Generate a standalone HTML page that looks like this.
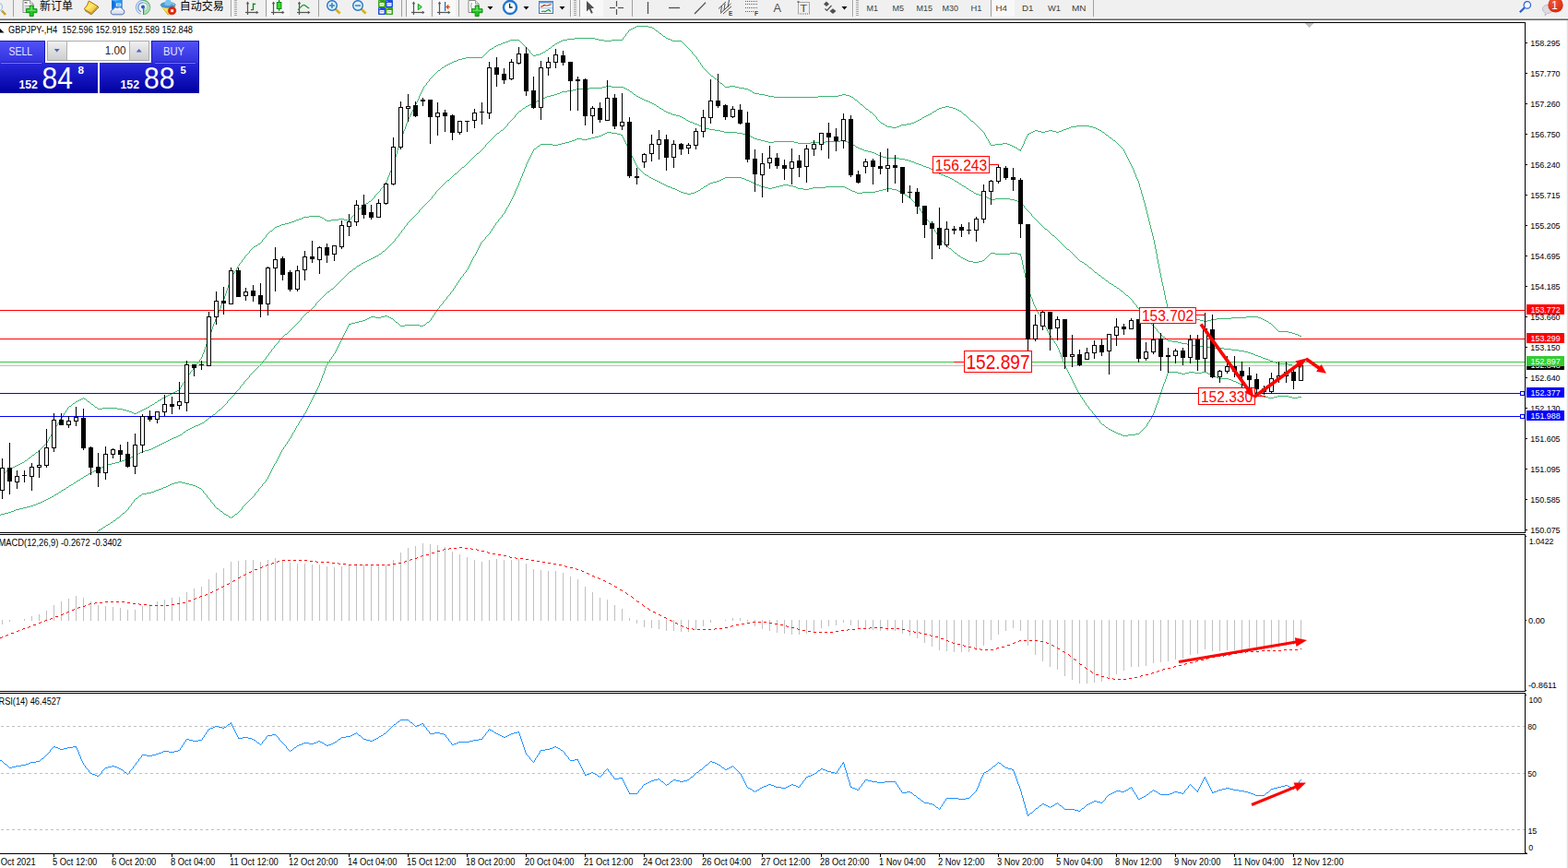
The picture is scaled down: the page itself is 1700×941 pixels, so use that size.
<!DOCTYPE html>
<html><head><meta charset="utf-8"><title>GBPJPY-,H4</title>
<style>html,body{margin:0;padding:0;background:#fff;overflow:hidden}body{width:1700px;height:941px;position:relative;font-family:"Liberation Sans",sans-serif}svg text{font-family:"Liberation Sans",sans-serif}</style></head>
<body>
<svg width="1700" height="941" viewBox="0 0 1700 941" style="position:absolute;left:0;top:0;font-family:'Liberation Sans',sans-serif">
<g id="chart">
<g shape-rendering="crispEdges"><path d="M319 239.5h2M354 239.5h5M377 239.5h2M111 442.5h16M158 442.5h2M538 49.5h2M599 49.5h2M995 130.5h2M10 508.5h2M39 490.5h2M1013 120.5h2M1040 120.5h2M833 104.5h6M887 104.5h22M921 104.5h2M1122 141.5h3M1137 141.5h4M1151 141.5h2M1192 141.5h2M553 43.5h10M610 43.5h5M649 43.5h6M663 43.5h12M727 43.5h2M1290 344.5h3M1335 344.5h16M1364 344.5h3M1288 343.5h2M1351 343.5h13M1281 339.5h2M955 133.5h2M988 133.5h3M84 434.5h2M171 434.5h2M829 103.5h4M909 103.5h4M917 103.5h4M957 134.5h2M983 134.5h5M545 46.5h3M604 46.5h2M991 132.5h2M1099 159.5h2M1266 336.5h5M1297 346.5h4M1313 346.5h6M1369 346.5h2M977 135.5h6M277 266.5h2M960 136.5h2M975 136.5h2M1167 136.5h14M497 64.5h4M309 242.5h4M962 137.5h5M972 137.5h3M1161 137.5h6M1181 137.5h4M1079 156.5h8M1092 156.5h3M1409 364.5h2M1025 115.5h4M140 446.5h3M150 446.5h2M993 131.5h2M1053 131.5h2M1376 350.5h2M690 28.5h13M823 102.5h6M913 102.5h4M324 237.5h3M367 237.5h6M316 240.5h3M589 56.5h2M505 62.5h18M168 436.5h2M22 502.5h2M186 426.5h2M321 238.5h3M352 238.5h2M359 238.5h8M373 238.5h4M1301 347.5h4M1309 347.5h4M1371 347.5h2M18 504.5h2M1120 142.5h2M1125 142.5h4M1133 142.5h4M1141 142.5h4M1148 142.5h3M533 52.5h2M595 52.5h2M791 93.5h6M329 235.5h6M347 235.5h2M327 236.5h2M349 236.5h2M137 445.5h3M152 445.5h2M1401 361.5h3M623 41.5h22M722 41.5h2M997 129.5h2M1021 116.5h4M1029 116.5h4M490 67.5h2M939 118.5h2M1016 118.5h2M1036 118.5h2M1293 345.5h4M1319 345.5h16M1367 345.5h2M1038 119.5h2M684 31.5h2M75 440.5h2M1118 143.5h2M1129 143.5h4M1145 143.5h3M1195 143.5h2M1087 155.5h5M839 105.5h48M923 105.5h2M335 234.5h12M1386 359.5h11M88 432.5h2M91 432.5h2M1277 338.5h4M275 267.5h2M482 71.5h2M615 42.5h8M645 42.5h4M724 42.5h3M551 44.5h2M608 44.5h2M655 44.5h8M729 44.5h10M1207 152.5h2M176 431.5h2M486 69.5h2M818 101.5h5M1271 337.5h6M540 48.5h3M479 73.5h2M813 98.5h2M106 443.5h5M127 443.5h6M156 443.5h2M548 45.5h3M606 45.5h2M531 53.5h2M1097 158.5h2M1199 146.5h2M585 58.5h2M163 439.5h2M1283 340.5h2M1305 348.5h4M1373 348.5h2M501 63.5h4M1156 139.5h3M1188 139.5h2M1404 362.5h3M587 57.5h2M1101 160.5h2M1203 149.5h2M143 447.5h2M148 447.5h2M543 47.5h2M602 47.5h2M1114 145.5h2M775 85.5h2M389 226.5h2M811 97.5h2M592 54.5h2M488 68.5h2M305 243.5h4M536 50.5h2M35 493.5h2M927 108.5h2M400 218.5h2M184 427.5h2M1285 341.5h2M475 76.5h2M1074 157.5h5M1095 157.5h2M313 241.5h3M1018 117.5h3M1033 117.5h3M816 100.5h2M807 96.5h4M682 32.5h2M1116 144.5h2M578 60.5h3M145 448.5h3M1104 162.5h3M786 94.5h5M797 94.5h4M1000 127.5h2M1002 126.5h2M99 438.5h2M165 438.5h2M967 138.5h5M1159 138.5h2M1185 138.5h3M943 121.5h2M1011 121.5h2M79 437.5h2M1004 125.5h2M82 435.5h2M95 435.5h2M397 220.5h2M20 503.5h2M16 505.5h2M1153 140.5h3M1190 140.5h2M581 59.5h4M0 515.5h2M103 441.5h2M160 441.5h2M293 250.5h2M771 82.5h2M1397 360.5h4M688 29.5h2M703 29.5h4M27 499.5h2M192 423.5h2M801 95.5h6M303 244.5h2M24 501.5h2M133 444.5h4M154 444.5h2M180 429.5h2M933 113.5h2M182 428.5h2M1006 124.5h2M1045 124.5h2M86 433.5h2M173 433.5h2M484 70.5h2M1407 363.5h2M7 510.5h2M711 33.5h2M190 424.5h2M686 30.5h2M707 30.5h2M719 39.5h2M395 221.5h2M14 506.5h2M781 90.5h2M178 430.5h2M715 36.5h2M280 264.5h2M300 245.5h3M1008 123.5h2M495 65.5h2M188 425.5h2M31 496.5h2M492 66.5h3M298 246.5h2M3 513.5h2M12 507.5h2M1245.5 236v4M73.5 442v2M105.5 442v1M568.5 49v1M743.5 49v1M442.5 129v3M952.5 130v1M1052.5 130v1M447.5 119v2M942.5 120v1M454.5 104v3M229.5 357v3M1385.5 358v1M438.5 140v2M1064.5 141v1M234.5 343v3M236.5 339v2M441.5 132v2M1056.5 133v1M453.5 107v2M926.5 107v1M94.5 434v1M455.5 102v2M440.5 134v3M1057.5 134v1M212.5 395v2M424.5 182v3M1229.5 184v3M565.5 46v1M740.5 46v1M231.5 351v3M1380.5 353v1M954.5 132v1M1055.5 132v1M432.5 157v3M1108.5 158v2M1215.5 159v1M46.5 484v1M428.5 170v3M1222.5 170v2M237.5 336v3M427.5 173v4M1224.5 174v2M244.5 318v3M1262.5 315v5M233.5 346v3M959.5 135v1M1058.5 135v1M253.5 296v1M1258.5 296v5M249.5 303v3M1259.5 301v5M1252.5 265v5M1059.5 136v1M756.5 64v1M1246.5 240v4M245.5 315v3M477.5 75v1M764.5 75v1M439.5 137v3M1060.5 137v1M433.5 153v4M1073.5 155v2M1109.5 156v2M1212.5 156v1M54.5 473v1M284.5 260v2M1251.5 260v5M227.5 362v3M449.5 115v2M936.5 115v1M71.5 445v2M216.5 390v2M452.5 109v2M929.5 109v1M953.5 131v1M50.5 480v1M211.5 397v1M232.5 349v2M351.5 237v1M380.5 236v2M528.5 56v1M574.5 55v2M750.5 56v2M755.5 62v2M426.5 177v3M1226.5 178v2M81.5 436v1M97.5 436v1M296.5 248v1M1248.5 248v4M257.5 289v2M1256.5 286v5M243.5 321v3M1263.5 320v5M379.5 238v1M437.5 142v3M1065.5 142v1M1194.5 142v1M571.5 52v1M746.5 52v1M460.5 93v1M785.5 93v1M381.5 235v1M1244.5 232v4M405.5 214v1M1239.5 213v4M393.5 223v1M1241.5 220v4M240.5 329v2M1265.5 329v5M273.5 269v1M228.5 360v2M675.5 41v2M392.5 224v1M1242.5 224v4M951.5 129v1M1051.5 129v1M467.5 84v1M774.5 84v1M937.5 116v1M758.5 67v1M1228.5 182v2M65.5 454v2M2.5 514v1M448.5 117v2M195.5 420v2M418.5 197v2M1234.5 196v3M941.5 119v1M1015.5 119v1M223.5 373v3M271.5 271v1M1253.5 270v5M709.5 31v1M102.5 440v1M162.5 440v1M1066.5 143v1M230.5 354v3M1382.5 355v1M1110.5 153v3M1211.5 155v1M474.5 77v1M766.5 77v1M282.5 263v1M246.5 312v3M1261.5 310v5M386.5 229v1M1243.5 228v4M422.5 187v3M1230.5 187v2M239.5 331v3M382.5 234v1M175.5 432v1M198.5 415v2M429.5 167v3M1221.5 168v2M235.5 341v2M1287.5 342v1M259.5 286v2M256.5 291v2M1257.5 291v5M64.5 456v2M461.5 92v1M784.5 92v1M194.5 422v1M761.5 71v2M270.5 272v2M60.5 462v2M457.5 98v2M815.5 99v1M563.5 44v1M434.5 150v3M1071.5 151v2M1111.5 151v2M1384.5 357v1M90.5 431v1M759.5 68v2M420.5 192v3M1233.5 194v2M262.5 282v2M1255.5 281v5M267.5 276v1M1254.5 275v6M226.5 365v3M456.5 100v2M567.5 48v1M601.5 48v1M742.5 48v1M762.5 73v1M254.5 294v2M220.5 382v2M564.5 45v1M739.5 45v1M572.5 53v1M594.5 53v1M747.5 53v1M408.5 210v1M1238.5 210v3M1214.5 158v1M436.5 145v3M1068.5 146v2M1114.5 146v1M526.5 58v1M576.5 58v1M751.5 58v1M55.5 471v2M77.5 439v1M101.5 439v1M419.5 195v2M423.5 185v2M51.5 478v2M414.5 203v1M1236.5 203v3M42.5 488v1M1062.5 139v1M204.5 406v1M406.5 212v2M288.5 255v2M1250.5 256v4M274.5 268v1M527.5 57v1M575.5 57v1M431.5 160v3M1107.5 160v2M1216.5 160v1M200.5 412v2M678.5 37v2M717.5 37v1M435.5 148v2M1069.5 148v2M1112.5 149v2M70.5 447v1M215.5 392v1M49.5 481v1M295.5 249v1M290.5 253v1M1249.5 252v4M566.5 47v1M741.5 47v1M1067.5 144v2M1198.5 145v1M203.5 407v2M529.5 55v1M591.5 55v1M749.5 55v1M430.5 163v4M1106.5 163v1M1218.5 162v2M69.5 448v2M466.5 85v1M29.5 498v1M263.5 281v1M1231.5 189v3M394.5 222v1M1103.5 161v1M1217.5 161v1M458.5 96v2M416.5 200v2M1235.5 199v4M1206.5 151v1M530.5 54v1M573.5 54v1M748.5 54v1M385.5 230v1M478.5 74v1M763.5 74v1M1072.5 153v2M1210.5 154v1M63.5 458v1M258.5 288v1M481.5 72v1M59.5 464v2M269.5 274v1M1209.5 153v1M569.5 50v1M598.5 50v1M744.5 50v1M471.5 80v1M769.5 80v1M285.5 259v1M387.5 228v1M1113.5 147v2M1201.5 147v1M1240.5 217v3M265.5 278v2M297.5 247v1M1247.5 244v4M1223.5 172v2M209.5 399v2M412.5 205v2M43.5 487v1M287.5 257v1M248.5 306v3M1260.5 306v4M407.5 211v1M765.5 76v1M1213.5 157v1M930.5 110v1M384.5 231v2M938.5 117v1M208.5 401v1M1375.5 349v1M404.5 215v1M710.5 32v1M1197.5 144v1M472.5 79v1M768.5 79v1M524.5 60v1M753.5 60v1M391.5 225v1M199.5 414v1M535.5 51v1M570.5 51v1M597.5 51v1M745.5 51v1M464.5 88v1M779.5 88v1M417.5 199v1M459.5 94v2M443.5 127v2M950.5 127v2M1049.5 127v1M444.5 125v2M949.5 126v1M1048.5 126v1M78.5 438v1M1061.5 138v1M446.5 121v2M1042.5 121v1M68.5 450v1M34.5 494v1M383.5 233v1M1219.5 164v2M421.5 190v2M98.5 437v1M167.5 437v1M222.5 376v3M415.5 202v1M948.5 125v1M1047.5 125v1M170.5 435v1M266.5 277v1M283.5 262v1M1381.5 354v1M289.5 254v1M1063.5 140v1M525.5 59v1M577.5 59v1M752.5 59v1M465.5 86v2M777.5 86v1M450.5 113v2M935.5 114v1M213.5 394v1M225.5 368v3M523.5 61v1M754.5 61v1M264.5 280v1M413.5 204v1M74.5 441v1M247.5 309v3M272.5 270v1M201.5 410v2M469.5 82v1M718.5 38v1M462.5 90v2M783.5 91v1M1070.5 150v1M1205.5 150v1M468.5 83v1M773.5 83v1M451.5 111v2M931.5 111v1M67.5 451v2M1383.5 356v1M473.5 78v1M767.5 78v1M388.5 227v1M72.5 444v1M219.5 384v3M33.5 495v1M260.5 285v1M251.5 299v2M41.5 489v1M445.5 123v2M947.5 124v1M1202.5 148v1M470.5 81v1M770.5 81v1M93.5 433v1M760.5 70v1M214.5 393v1M48.5 482v1M1237.5 206v4M286.5 258v1M425.5 180v2M1227.5 180v2M242.5 324v3M1264.5 325v4M250.5 301v2M217.5 389v1M403.5 216v1M241.5 327v2M402.5 217v1M681.5 33v2M713.5 34v1M1379.5 352v1M196.5 418v2M26.5 500v1M224.5 371v2M62.5 459v2M999.5 128v1M1050.5 128v1M58.5 466v1M268.5 275v1M1220.5 166v2M677.5 39v1M945.5 122v1M1010.5 122v1M1043.5 122v1M1225.5 176v2M261.5 284v1M399.5 219v1M1232.5 192v2M238.5 334v2M1266.5 334v2M61.5 461v1M57.5 467v2M252.5 297v2M53.5 474v2M679.5 36v1M932.5 112v1M279.5 265v1M218.5 387v2M676.5 40v1M721.5 40v1M778.5 87v1M925.5 106v1M52.5 476v2M47.5 483v1M197.5 417v1M221.5 379v3M946.5 123v1M1044.5 123v1M757.5 65v2M255.5 293v1M56.5 469v2M37.5 492v1M206.5 403v2M680.5 35v1M714.5 35v1M411.5 207v1M463.5 89v1M780.5 89v1M66.5 453v1M30.5 497v1M292.5 251v1M45.5 485v1M409.5 209v1M1378.5 351v1M202.5 409v1M6.5 511v1M210.5 398v1M205.5 405v1M38.5 491v1M207.5 402v1M291.5 252v1M410.5 208v1M44.5 486v1M5.5 512v1M9.5 509v1" stroke="#3cb371" stroke-width="1" fill="none"/><path d="M56 538.5h2M762 138.5h3M625 96.5h14M678 96.5h2M597 103.5h4M1297 375.5h12M653 94.5h4M663 94.5h13M621 97.5h4M680 97.5h2M805 145.5h4M1335 379.5h8M829 153.5h4M839 153.5h22M895 153.5h16M916 153.5h3M733 125.5h4M12 554.5h3M1133 248.5h2M724 122.5h3M717 118.5h2M1072 215.5h2M1079 215.5h16M202 466.5h2M117 503.5h4M572 114.5h2M580 110.5h2M703 110.5h2M1 557.5h4M1380 392.5h3M1364 386.5h3M1281 372.5h6M991 176.5h2M217 459.5h2M753 134.5h3M814 148.5h2M1327 378.5h8M816 149.5h2M584 108.5h2M698 108.5h2M48 542.5h2M957 170.5h4M44 544.5h2M415 272.5h2M578 111.5h2M705 111.5h2M1056 209.5h2M1369 388.5h3M928 159.5h2M1375 390.5h2M108 507.5h2M865 155.5h14M921 155.5h2M925 157.5h2M1343 380.5h6M657 93.5h6M937 163.5h4M1105 219.5h2M1215 315.5h2M1025 191.5h3M1277 371.5h4M208 463.5h2M517 166.5h2M948 166.5h2M493 188.5h2M1018 188.5h2M1011 184.5h2M639 95.5h14M676 95.5h2M563 120.5h2M720 120.5h2M204 465.5h2M576 112.5h2M707 112.5h2M818 150.5h3M88 518.5h2M923 156.5h2M833 154.5h6M861 154.5h4M879 154.5h16M919 154.5h2M223 455.5h2M485 195.5h2M21 551.5h4M193 472.5h2M961 171.5h14M539 144.5h2M799 144.5h6M188 474.5h3M72 528.5h2M722 121.5h2M954 169.5h3M1271 370.5h6M567 117.5h2M715 117.5h2M387 288.5h2M1361 385.5h3M981 173.5h4M1266 369.5h5M25 550.5h4M760 137.5h2M406 278.5h2M593 104.5h4M690 104.5h2M129 500.5h3M1007 182.5h2M615 98.5h6M161 487.5h3M1043 201.5h2M98 512.5h2M729 124.5h4M737 126.5h2M1157 270.5h2M1013 185.5h2M1020 189.5h3M180 478.5h2M394 284.5h2M1173 284.5h2M389 287.5h2M150 491.5h2M785 143.5h14M1372 389.5h3M751 133.5h2M199 468.5h2M586 107.5h2M696 107.5h2M1377 391.5h3M825 152.5h4M911 152.5h5M359 313.5h2M975 172.5h6M1191 298.5h2M1195 301.5h2M152 490.5h2M1023 190.5h2M1367 387.5h2M91 516.5h2M1016 187.5h2M1009 183.5h2M609 99.5h6M683 99.5h2M110 506.5h2M993 177.5h3M1293 374.5h4M106 508.5h2M1401 396.5h6M46 543.5h2M1048 204.5h2M408 277.5h2M1058 210.5h3M206 464.5h2M36 547.5h3M1313 377.5h14M604 101.5h3M170 483.5h2M1359 384.5h2M1074 216.5h5M1095 216.5h5M140 496.5h2M765 139.5h4M1068 213.5h2M1037 197.5h2M758 136.5h2M748 132.5h3M1385 394.5h12M69 530.5h2M945 165.5h3M574 113.5h2M709 113.5h2M582 109.5h2M700 109.5h3M821 151.5h4M591 105.5h2M692 105.5h2M1287 373.5h6M125 501.5h4M9 555.5h3M404 279.5h2M114 504.5h3M80 523.5h2M996 178.5h3M219 458.5h2M157 488.5h4M215 460.5h2M121 502.5h4M148 492.5h2M64 533.5h2M1065 212.5h3M1221 320.5h2M741 128.5h2M952 168.5h2M941 164.5h4M1176 286.5h2M1187 295.5h2M781 142.5h4M588 106.5h3M694 106.5h2M607 100.5h2M501 181.5h2M1004 181.5h3M33 548.5h3M601 102.5h3M687 102.5h2M932 161.5h3M137 497.5h3M54 539.5h2M96 513.5h2M178 479.5h2M543 141.5h2M775 141.5h6M1353 382.5h3M1211 312.5h2M1070 214.5h2M1061 211.5h4M746 131.5h2M396 283.5h2M1171 283.5h2M41 545.5h3M411 275.5h2M950 167.5h2M61 535.5h2M1356 383.5h3M756 135.5h2M1397 395.5h4M999 179.5h2M398 282.5h2M400 281.5h2M1349 381.5h4M1001 180.5h3M1103 218.5h2M1035 196.5h2M168 484.5h2M1407 397.5h4M186 475.5h2M769 140.5h6M1053 207.5h2M809 146.5h3M744 130.5h2M231 449.5h2M93 515.5h2M1181 290.5h2M77 525.5h2M739 127.5h2M379 294.5h2M146 493.5h2M176 480.5h2M1261 365.5h2M195 471.5h2M104 509.5h2M29 549.5h4M1100 217.5h3M132 499.5h3M164 486.5h2M17 552.5h4M5 556.5h4M1028 192.5h2M52 540.5h2M402 280.5h2M1045 202.5h2M154 489.5h3M1203 307.5h2M112 505.5h2M988 175.5h3M212 461.5h3M355 316.5h2M39 546.5h2M1309 376.5h4M985 174.5h3M85 520.5h2M135 498.5h2M1051 206.5h2M184 476.5h2M1141 255.5h2M570 115.5h2M712 115.5h2M1040 199.5h2M309 362.5h2M1383 393.5h2M1030 193.5h2M930 160.5h2M75 526.5h2M237 444.5h2M210 462.5h2M59 536.5h2M144 494.5h2M102 510.5h2M1205 308.5h2M392 285.5h2M166 485.5h2M1199 304.5h2M1032 194.5h2M67 531.5h2M333 338.5h2M812 147.5h2M383 291.5h2M227 452.5h2M174 481.5h2M15 553.5h2M100 511.5h2M182 477.5h2M935 162.5h2M50 541.5h2M727 123.5h2M1208 310.5h2M172 482.5h2M191 473.5h2M83 521.5h2M142 495.5h2M547.5 138v1M261.5 418v1M689.5 103v1M297.5 375v2M475.5 205v1M1050.5 205v1M538.5 145v1M294.5 379v2M452.5 231v1M1117.5 231v1M530.5 153v1M558.5 125v2M451.5 232v1M1118.5 232v2M343.5 328v1M1229.5 328v1M308.5 363v1M1259.5 363v1M437.5 248v1M561.5 122v1M566.5 118v1M413.5 274v1M1162.5 274v1M467.5 215v1M711.5 114v1M284.5 392v2M362.5 311v1M1210.5 311v1M82.5 522v1M289.5 386v1M300.5 372v1M507.5 176v1M550.5 134v2M535.5 148v1M295.5 378v1M260.5 419v2M460.5 222v1M1109.5 222v1M534.5 149v1M367.5 306v1M1202.5 306v1M513.5 170v1M324.5 348v1M1246.5 348v2M1160.5 272v1M472.5 208v2M288.5 387v2M525.5 159v1M286.5 390v1M528.5 155v1M526.5 157v2M382.5 292v1M1184.5 292v1M428.5 259v2M1146.5 259v1M521.5 163v1M423.5 265v1M1152.5 265v1M314.5 358v1M1254.5 357v2M346.5 325v1M1227.5 325v1M463.5 219v1M357.5 315v1M426.5 262v1M1149.5 262v1M335.5 337v1M1236.5 336v2M345.5 326v1M1228.5 326v2M490.5 191v1M301.5 371v1M434.5 252v1M1138.5 252v1M498.5 184v1M326.5 345v2M1244.5 346v1M311.5 361v1M1257.5 361v1M533.5 150v1M527.5 156v1M529.5 154v1M1034.5 195v1M512.5 171v1M562.5 121v1M235.5 446v1M321.5 351v1M1248.5 351v1M429.5 258v1M1145.5 258v1M514.5 169v1M320.5 352v1M1249.5 352v1M302.5 369v2M1179.5 288v1M290.5 385v1M247.5 434v1M510.5 173v1M340.5 332v1M1232.5 331v2M242.5 440v1M548.5 137v1M1166.5 278v1M500.5 182v1M682.5 98v1M479.5 201v1M259.5 421v1M559.5 124v1M352.5 319v1M1220.5 319v1M424.5 264v1M1151.5 264v1M446.5 237v1M1122.5 237v1M418.5 270v1M497.5 185v1M492.5 189v1M254.5 426v2M339.5 333v1M1233.5 333v1M1178.5 287v1M368.5 305v1M1201.5 305v1M270.5 407v2M541.5 143v1M287.5 389v1M551.5 133v1M265.5 413v1M285.5 391v1M246.5 435v2M531.5 152v1M1213.5 313v1M511.5 172v1M425.5 263v1M1150.5 263v1M316.5 356v1M1253.5 356v1M375.5 298v1M441.5 242v2M1128.5 243v1M277.5 400v1M422.5 266v1M1153.5 266v1M454.5 228v2M1114.5 228v1M313.5 359v1M1255.5 359v1M372.5 301v1M491.5 190v1M319.5 353v1M1250.5 353v1M1055.5 208v1M328.5 343v1M1241.5 343v1M63.5 534v1M318.5 354v1M1251.5 354v1M495.5 187v1M499.5 183v1M453.5 230v1M1116.5 230v1M226.5 453v1M506.5 177v1M298.5 374v1M565.5 119v1M719.5 119v1M281.5 396v1M342.5 329v2M1231.5 330v1M341.5 331v1M476.5 204v1M1165.5 277v1M421.5 267v1M1154.5 267v1M435.5 250v2M1137.5 251v1M347.5 324v1M1226.5 324v1M471.5 210v1M296.5 377v1M686.5 101v1M291.5 383v2M466.5 216v1M381.5 293v1M1185.5 293v1M546.5 139v1M468.5 213v2M483.5 197v1M549.5 136v1M552.5 132v1M555.5 129v1M743.5 129v1M354.5 317v1M1218.5 317v1M283.5 394v1M519.5 165v1M532.5 151v1M299.5 373v1M1167.5 279v1M505.5 178v1M258.5 422v1M450.5 233v1M253.5 428v1M449.5 234v1M1119.5 234v1M250.5 431v1M469.5 212v1M445.5 238v1M1123.5 238v1M374.5 299v1M1193.5 299v1M440.5 244v1M1129.5 244v1M351.5 320v1M312.5 360v1M1256.5 360v1M556.5 128v1M336.5 336v1M515.5 168v1M520.5 164v1M371.5 302v1M1197.5 302v1M391.5 286v1M378.5 295v1M457.5 225v1M1111.5 225v1M569.5 116v1M714.5 116v1M327.5 344v1M1242.5 344v1M322.5 350v1M1247.5 350v1M542.5 142v1M225.5 454v1M927.5 158v1M1147.5 260v1M344.5 327v1M448.5 235v1M1120.5 235v1M414.5 273v1M1161.5 273v1M331.5 340v1M1239.5 340v1M447.5 236v1M1121.5 236v1M233.5 448v1M685.5 100v1M523.5 161v1M338.5 334v1M1234.5 334v1M353.5 318v1M1219.5 318v1M456.5 226v1M1112.5 226v1M419.5 269v1M1156.5 269v1M1127.5 242v1M271.5 406v1M350.5 321v1M1223.5 321v1M496.5 186v1M1015.5 186v1M0.5 558v1M292.5 382v1M361.5 312v1M278.5 399v1M470.5 211v1M553.5 131v1M239.5 443v1M439.5 245v1M1130.5 245v1M1230.5 329v1M275.5 402v1M1163.5 275v1M305.5 366v1M1263.5 366v1M516.5 167v1M410.5 276v1M1164.5 276v1M262.5 417v1M282.5 395v1M504.5 179v1M1170.5 282v1M1169.5 281v1M293.5 381v1M438.5 246v2M1132.5 247v1M503.5 180v1M433.5 253v1M1139.5 253v1M87.5 519v1M325.5 347v1M1245.5 347v1M464.5 218v1M484.5 196v1M280.5 397v1M71.5 529v1M358.5 314v1M1214.5 314v1M230.5 450v1M545.5 140v1M473.5 207v1M537.5 146v1M554.5 130v1M304.5 367v1M1264.5 367v1M303.5 368v1M1265.5 368v1M385.5 290v1M264.5 414v2M557.5 127v1M1186.5 294v1M236.5 445v1M337.5 335v1M1235.5 335v1M251.5 430v1M307.5 364v1M1260.5 364v1M306.5 365v1M443.5 240v1M1125.5 240v1M1131.5 246v1M458.5 224v1M1110.5 223v2M274.5 403v1M417.5 271v1M1159.5 271v1M269.5 409v1M364.5 309v1M1207.5 309v1M465.5 217v1M317.5 355v1M1252.5 355v1M332.5 339v1M1238.5 339v1M1136.5 250v1M442.5 241v1M1126.5 241v1M489.5 192v1M480.5 200v1M1042.5 200v1M1168.5 280v1M478.5 202v1M459.5 223v1M431.5 256v1M1143.5 256v1M366.5 307v1M315.5 357v1M229.5 451v1M508.5 175v1M240.5 442v1M276.5 401v1M370.5 303v1M1198.5 303v1M1217.5 316v1M257.5 423v1M252.5 429v1M263.5 416v1M197.5 470v1M244.5 438v1M444.5 239v1M1124.5 239v1M255.5 425v1M373.5 300v1M1194.5 300v1M420.5 268v1M1155.5 268v1M201.5 467v1M509.5 174v1M427.5 261v1M1148.5 261v1M474.5 206v1M477.5 203v1M1047.5 203v1M377.5 296v1M1189.5 296v1M432.5 254v2M430.5 257v1M1144.5 257v1M222.5 456v1M482.5 198v1M1039.5 198v1M461.5 221v1M1108.5 221v1M481.5 199v1M95.5 514v1M1258.5 362v1M386.5 289v1M1180.5 289v1M488.5 193v1M524.5 160v1M79.5 524v1M462.5 220v1M1107.5 220v1M1243.5 345v1M349.5 322v1M1224.5 322v1M365.5 308v1M256.5 424v1M436.5 249v1M1135.5 249v1M1175.5 285v1M272.5 405v1M267.5 411v1M1140.5 254v1M248.5 433v1M243.5 439v1M221.5 457v1M279.5 398v1M369.5 304v1M330.5 341v1M1240.5 341v2M66.5 532v1M487.5 194v1M1237.5 338v1M536.5 147v1M1183.5 291v1M348.5 323v1M1225.5 323v1M245.5 437v1M273.5 404v1M329.5 342v1M268.5 410v1M455.5 227v1M1113.5 227v1M522.5 162v1M323.5 349v1M376.5 297v1M1190.5 297v1M560.5 123v1M363.5 310v1M1115.5 229v1M249.5 432v1M241.5 441v1M198.5 469v1M90.5 517v1M74.5 527v1M58.5 537v1M234.5 447v1M266.5 412v1" stroke="#3cb371" stroke-width="1" fill="none"/><path d="M1050 283.5h5M1061 283.5h4M167 532.5h2M1039 277.5h2M741 209.5h4M749 209.5h4M929 209.5h6M724 202.5h3M763 202.5h2M825 202.5h4M841 202.5h4M860 202.5h3M895 202.5h21M159 534.5h5M400 344.5h2M407 344.5h6M422 344.5h2M734 206.5h2M757 206.5h2M922 206.5h2M953 206.5h4M972 206.5h2M1375 431.5h6M1401 431.5h6M727 203.5h2M829 203.5h4M837 203.5h4M863 203.5h2M881 203.5h14M916 203.5h2M154 535.5h5M1199 463.5h2M1370 430.5h5M1381 430.5h4M1397 430.5h4M1407 430.5h4M1362 426.5h2M984 213.5h2M1079 275.5h16M1103 275.5h4M579 161.5h2M1335 412.5h2M708 194.5h2M782 194.5h2M807 194.5h2M729 204.5h3M760 204.5h2M833 204.5h4M865 204.5h6M877 204.5h4M918 204.5h2M961 204.5h6M439 352.5h16M459 352.5h2M164 533.5h3M1277 404.5h4M1285 404.5h4M1295 404.5h8M1308 404.5h2M720 200.5h2M820 200.5h3M849 200.5h6M1035 274.5h2M1074 274.5h5M1095 274.5h8M745 210.5h4M979 210.5h2M182 526.5h2M209 526.5h3M714 197.5h2M773 197.5h4M814 197.5h2M1316 408.5h3M385 349.5h4M429 349.5h2M463 349.5h2M736 207.5h2M755 207.5h2M924 207.5h3M949 207.5h4M974 207.5h2M620 152.5h3M609 155.5h4M398 345.5h2M424 345.5h2M1348 418.5h3M1351 419.5h2M1342 415.5h2M393 347.5h3M1281 405.5h4M1310 405.5h2M184 525.5h2M205 525.5h4M712 196.5h2M777 196.5h3M812 196.5h2M1042 279.5h2M117 568.5h2M1319 409.5h2M1368 429.5h2M1385 429.5h12M381 350.5h4M623 151.5h2M631 151.5h6M1266 403.5h11M1289 403.5h6M1303 403.5h5M722 201.5h2M765 201.5h2M823 201.5h2M845 201.5h4M855 201.5h5M1208 468.5h2M1215 471.5h2M1223 471.5h8M189 523.5h4M197 523.5h4M1344 416.5h2M1355 421.5h2M1217 472.5h6M1210 469.5h2M1202 465.5h2M732 205.5h2M871 205.5h6M920 205.5h2M957 205.5h4M967 205.5h5M133 556.5h2M716 198.5h2M770 198.5h3M816 198.5h2M710 195.5h2M780 195.5h2M809 195.5h3M1366 428.5h2M245 558.5h2M1212 470.5h3M1231 470.5h4M654 145.5h2M669 145.5h4M186 524.5h3M201 524.5h4M718 199.5h2M768 199.5h2M818 199.5h2M1314 407.5h2M107 574.5h2M434 353.5h5M455 353.5h4M738 208.5h3M753 208.5h2M927 208.5h2M935 208.5h14M976 208.5h2M402 343.5h5M413 343.5h4M420 343.5h2M706 193.5h2M784 193.5h2M804 193.5h3M1340 414.5h2M625 150.5h6M637 150.5h4M1029 269.5h2M235 551.5h2M389 348.5h4M1044 280.5h2M704 192.5h2M786 192.5h18M1048 282.5h2M1065 282.5h2M645 148.5h4M649 147.5h3M656 144.5h2M663 144.5h6M586 156.5h13M605 156.5h4M1195 460.5h2M1055 284.5h6M1312 406.5h2M248 560.5h2M251 560.5h2M1346 417.5h2M1337 413.5h3M1321 410.5h11M243 557.5h2M255 557.5h2M981 211.5h2M239 554.5h2M175 529.5h2M216 529.5h2M193 522.5h4M1206 467.5h2M151 537.5h2M652 146.5h2M673 146.5h2M617 153.5h3M396 346.5h2M641 149.5h4M115 569.5h2M417 342.5h3M701 190.5h2M123 564.5h2M169 531.5h3M172 530.5h3M177 528.5h3M214 528.5h2M109 573.5h2M1204 466.5h2M127 561.5h2M1364 427.5h2M613 154.5h4M599 157.5h6M1332 411.5h3M1046 281.5h2M378 351.5h3M1353 420.5h2M180 527.5h2M212 527.5h2M699 189.5h2M112 571.5h2M1359 424.5h2M583 158.5h2M658 143.5h5M120 566.5h2M147 540.5h2M511.5 282v2M1108.5 282v5M475.5 334v1M1123.5 334v2M488.5 317v2M1116.5 316v3M146.5 541v1M227.5 541v1M271.5 541v1M507.5 290v2M1109.5 287v5M145.5 542v2M228.5 542v2M270.5 542v1M328.5 451v2M1188.5 451v2M1249.5 450v2M220.5 532v2M279.5 532v1M514.5 277v1M1071.5 277v1M1106.5 276v2M558.5 207v3M978.5 209v1M561.5 201v2M517.5 271v2M1033.5 272v1M499.5 301v2M1112.5 301v5M221.5 534v1M277.5 534v1M468.5 344v1M1128.5 343v2M559.5 205v2M339.5 430v2M1173.5 431v2M1256.5 431v3M560.5 203v2M762.5 203v1M222.5 535v1M276.5 535v2M321.5 462v2M1198.5 462v1M1242.5 462v1M364.5 379v2M1148.5 379v3M138.5 552v1M237.5 552v1M261.5 552v1M308.5 484v1M1241.5 463v1M320.5 464v2M1201.5 464v1M1240.5 464v1M377.5 353v2M1133.5 353v2M1172.5 430v1M1257.5 428v3M341.5 426v2M1169.5 425v2M1258.5 425v3M476.5 332v2M1122.5 332v2M556.5 212v2M515.5 275v2M1037.5 275v1M1073.5 275v1M681.5 160v2M348.5 410v3M1162.5 411v2M1263.5 411v3M354.5 395v2M1154.5 394v3M360.5 386v1M1150.5 384v3M304.5 490v2M547.5 229v2M999.5 229v2M373.5 361v2M1137.5 361v2M536.5 244v1M1010.5 244v1M564.5 193v3M149.5 539v1M225.5 539v1M273.5 539v1M378.5 352v1M433.5 352v1M1132.5 351v2M487.5 319v1M1117.5 319v3M332.5 444v2M1183.5 445v1M1251.5 445v3M278.5 533v1M351.5 402v3M1158.5 403v2M1266.5 404v1M562.5 198v3M767.5 200v1M516.5 273v2M557.5 210v2M284.5 525v2M563.5 196v2M572.5 174v2M688.5 175v2M1248.5 452v2M349.5 407v3M1160.5 407v2M1264.5 408v3M1131.5 349v2M324.5 457v2M1193.5 458v1M1244.5 458v2M578.5 162v2M682.5 162v3M677.5 152v2M323.5 459v2M1194.5 459v1M307.5 485v2M473.5 336v2M1124.5 336v2M478.5 330v1M1121.5 330v2M678.5 154v2M467.5 345v2M1129.5 345v2M345.5 418v2M1165.5 417v2M1261.5 416v3M372.5 363v2M1139.5 364v2M505.5 293v2M1110.5 292v4M144.5 544v1M229.5 544v1M268.5 544v1M303.5 492v2M1166.5 419v2M1260.5 419v3M346.5 415v3M1164.5 415v2M1262.5 414v2M427.5 347v1M466.5 347v1M1130.5 347v2M350.5 405v2M1159.5 405v2M1265.5 405v3M143.5 545v1M230.5 545v1M267.5 545v1M343.5 422v2M1167.5 421v2M1259.5 422v3M1357.5 422v1M331.5 446v2M1184.5 446v2M513.5 278v2M1069.5 279v1M1107.5 278v4M368.5 371v2M1143.5 370v2M1161.5 409v2M299.5 500v2M340.5 428v2M1171.5 428v2M431.5 350v1M462.5 350v1M676.5 150v2M337.5 434v2M1175.5 434v2M1255.5 434v3M571.5 176v2M689.5 177v2M318.5 468v1M1236.5 468v1M1041.5 278v1M1070.5 278v1M522.5 262v1M1022.5 262v1M352.5 399v3M1156.5 399v2M545.5 232v1M1001.5 232v2M126.5 562v1M371.5 365v2M1140.5 366v1M533.5 248v2M1012.5 247v2M316.5 471v2M286.5 523v1M344.5 420v2M1038.5 276v1M1072.5 276v1M1138.5 363v1M370.5 367v2M1141.5 367v2M582.5 159v1M680.5 158v2M496.5 306v1M1113.5 306v4M367.5 373v2M1145.5 373v2M298.5 502v1M317.5 469v2M1235.5 469v1M1239.5 465v1M369.5 369v2M1142.5 369v1M581.5 160v1M759.5 205v1M489.5 316v1M498.5 303v1M242.5 556v1M257.5 556v1M493.5 310v2M1114.5 310v4M526.5 257v2M1018.5 258v1M294.5 509v2M131.5 558v1M254.5 558v1M569.5 181v2M691.5 181v1M521.5 263v2M1024.5 264v1M329.5 449v2M1187.5 450v1M269.5 543v1M1032.5 271v1M142.5 546v2M232.5 547v2M265.5 547v1M532.5 250v1M1013.5 249v2M285.5 524v1M376.5 355v2M1134.5 355v2M140.5 549v1M233.5 549v1M263.5 549v1M338.5 432v2M313.5 476v2M335.5 438v2M1177.5 437v2M1254.5 437v2M983.5 212v1M469.5 342v2M492.5 312v1M293.5 511v2M566.5 188v3M698.5 188v1M347.5 413v2M1163.5 413v2M520.5 265v2M1026.5 266v1M576.5 166v2M684.5 167v2M1034.5 273v1M687.5 173v2M518.5 269v2M139.5 550v2M262.5 550v2M1144.5 372v1M1174.5 433v1M480.5 327v2M1120.5 327v3M428.5 348v1M465.5 348v1M512.5 280v2M1068.5 280v1M137.5 553v1M238.5 553v1M260.5 553v1M570.5 178v3M359.5 387v2M1151.5 387v2M565.5 191v2M675.5 148v2M575.5 168v2M685.5 169v2M288.5 520v2M234.5 550v1M674.5 147v1M327.5 453v1M1189.5 453v1M334.5 440v2M1179.5 440v1M1253.5 439v3M322.5 461v1M1197.5 461v1M1243.5 460v2M679.5 156v2M543.5 235v1M1003.5 235v1M577.5 164v2M485.5 321v1M484.5 322v2M1118.5 322v2M472.5 338v1M1125.5 338v2M504.5 295v1M510.5 284v2M503.5 296v1M1111.5 296v5M531.5 251v2M1014.5 251v1M1017.5 256v2M361.5 384v2M537.5 242v2M1009.5 243v1M129.5 560v1M1157.5 401v2M342.5 424v2M1361.5 425v1M336.5 436v2M529.5 254v1M1016.5 254v2M502.5 297v2M333.5 442v2M1181.5 443v1M1252.5 442v3M497.5 304v2M495.5 307v2M482.5 325v1M1119.5 324v3M132.5 557v1M1192.5 456v2M1245.5 457v1M525.5 259v1M1019.5 259v1M136.5 554v1M259.5 554v1M474.5 335v1M281.5 529v1M553.5 218v2M990.5 218v1M470.5 341v1M1127.5 341v2M290.5 517v2M287.5 522v1M319.5 466v2M1237.5 467v1M568.5 183v3M693.5 183v1M224.5 537v2M275.5 537v1M305.5 488v2M554.5 216v2M989.5 217v1M426.5 346v1M1180.5 441v2M546.5 231v1M1000.5 231v1M357.5 390v2M1152.5 389v3M552.5 220v2M992.5 220v1M541.5 237v1M1004.5 236v2M1015.5 252v2M1186.5 449v1M1250.5 448v2M353.5 397v2M1155.5 397v2M548.5 227v2M997.5 226v2M325.5 456v1M1246.5 455v2M1168.5 423v2M1358.5 423v1M508.5 288v2M135.5 555v1M241.5 555v1M258.5 555v1M551.5 222v2M995.5 223v2M219.5 531v1M280.5 530v2M374.5 359v2M1136.5 359v2M542.5 236v1M527.5 256v1M567.5 186v2M696.5 186v1M544.5 233v2M1002.5 234v1M218.5 530v1M282.5 528v1M690.5 179v2M366.5 375v2M1146.5 375v2M1238.5 466v1M363.5 381v2M106.5 575v1M355.5 393v2M1153.5 392v2M150.5 538v1M274.5 538v1M250.5 561v1M1178.5 439v1M141.5 548v1M264.5 548v1M231.5 546v1M266.5 546v1M486.5 320v1M375.5 357v2M1135.5 357v2M1170.5 427v1M481.5 326v1M362.5 383v1M1149.5 382v2M306.5 487v1M289.5 519v1M130.5 559v1M247.5 559v1M253.5 559v1M585.5 157v1M1008.5 241v2M302.5 494v2M1067.5 281v1M432.5 351v1M461.5 351v1M555.5 214v2M986.5 214v1M994.5 222v1M301.5 496v2M1176.5 436v1M297.5 503v2M483.5 324v1M540.5 238v2M1006.5 239v1M471.5 339v2M535.5 245v2M1011.5 245v2M509.5 286v2M539.5 240v1M1007.5 240v1M356.5 392v1M692.5 182v1M703.5 191v1M697.5 187v1M987.5 215v1M292.5 513v2M988.5 216v1M491.5 313v2M506.5 292v1M519.5 267v2M1027.5 267v1M528.5 255v1M315.5 473v2M494.5 309v1M311.5 479v2M479.5 329v1M283.5 527v1M358.5 389v1M991.5 219v1M538.5 241v1M490.5 315v1M1115.5 314v2M1031.5 270v1M330.5 448v1M1185.5 448v1M574.5 170v2M314.5 475v1M694.5 184v1M695.5 185v1M993.5 221v1M683.5 165v2M530.5 253v1M998.5 228v1M573.5 172v2M686.5 171v2M300.5 498v2M296.5 505v2M524.5 260v1M1020.5 260v1M501.5 299v1M1182.5 444v1M523.5 261v1M1021.5 261v1M295.5 507v2M365.5 377v2M1147.5 377v2M114.5 570v1M310.5 481v1M1005.5 238v1M226.5 540v1M272.5 540v1M1028.5 268v1M326.5 454v2M1190.5 454v1M1247.5 454v1M111.5 572v1M291.5 515v2M1023.5 263v1M153.5 536v1M223.5 536v1M549.5 225v2M996.5 225v1M105.5 576v1M1126.5 340v1M1025.5 265v1M500.5 300v1M1191.5 455v1M122.5 565v1M309.5 482v2M477.5 331v1M312.5 478v1M550.5 224v1M119.5 567v1M534.5 247v1M125.5 563v1" stroke="#3cb371" stroke-width="1" fill="none"/></g>
<g shape-rendering="crispEdges"><rect x="0" y="396" width="1653" height="1" fill="#c0c0c0"/><rect x="0" y="336" width="1653" height="1" fill="#ff0000"/><rect x="0" y="367" width="1653" height="1" fill="#ff0000"/><rect x="0" y="392" width="1653" height="1" fill="#32cd32"/><rect x="0" y="426" width="1653" height="1" fill="#0000ff"/><rect x="0" y="451" width="1653" height="1" fill="#0000ff"/></g>
<g shape-rendering="crispEdges"><rect x="2" y="497" width="1" height="44" fill="#000"/><rect x="0" y="507" width="5" height="25" fill="#000"/><rect x="1" y="508" width="3" height="23" fill="#fff"/><rect x="10" y="480" width="1" height="56" fill="#000"/><rect x="8" y="507" width="5" height="15" fill="#000"/><rect x="18" y="510" width="1" height="20" fill="#000"/><rect x="16" y="516" width="5" height="7" fill="#000"/><rect x="17" y="517" width="3" height="5" fill="#fff"/><rect x="26" y="510" width="1" height="13" fill="#000"/><rect x="24" y="515" width="5" height="1" fill="#000"/><rect x="34" y="502" width="1" height="30" fill="#000"/><rect x="32" y="506" width="5" height="11" fill="#000"/><rect x="33" y="507" width="3" height="9" fill="#fff"/><rect x="42" y="488" width="1" height="30" fill="#000"/><rect x="40" y="504" width="5" height="3" fill="#000"/><rect x="41" y="505" width="3" height="1" fill="#fff"/><rect x="50" y="465" width="1" height="42" fill="#000"/><rect x="48" y="485" width="5" height="20" fill="#000"/><rect x="49" y="486" width="3" height="18" fill="#fff"/><rect x="58" y="448" width="1" height="42" fill="#000"/><rect x="56" y="455" width="5" height="31" fill="#000"/><rect x="57" y="456" width="3" height="29" fill="#fff"/><rect x="66" y="448" width="1" height="13" fill="#000"/><rect x="64" y="455" width="5" height="6" fill="#000"/><rect x="74" y="451" width="1" height="13" fill="#000"/><rect x="72" y="456" width="5" height="5" fill="#000"/><rect x="73" y="457" width="3" height="3" fill="#fff"/><rect x="82" y="441" width="1" height="21" fill="#000"/><rect x="80" y="452" width="5" height="5" fill="#000"/><rect x="81" y="453" width="3" height="3" fill="#fff"/><rect x="90" y="443" width="1" height="45" fill="#000"/><rect x="88" y="453" width="5" height="33" fill="#000"/><rect x="98" y="484" width="1" height="31" fill="#000"/><rect x="96" y="485" width="5" height="22" fill="#000"/><rect x="106" y="491" width="1" height="37" fill="#000"/><rect x="104" y="506" width="5" height="7" fill="#000"/><rect x="114" y="484" width="1" height="36" fill="#000"/><rect x="112" y="492" width="5" height="21" fill="#000"/><rect x="113" y="493" width="3" height="19" fill="#fff"/><rect x="122" y="486" width="1" height="11" fill="#000"/><rect x="120" y="487" width="5" height="6" fill="#000"/><rect x="121" y="488" width="3" height="4" fill="#fff"/><rect x="130" y="482" width="1" height="18" fill="#000"/><rect x="128" y="488" width="5" height="5" fill="#000"/><rect x="138" y="479" width="1" height="28" fill="#000"/><rect x="136" y="492" width="5" height="14" fill="#000"/><rect x="146" y="470" width="1" height="44" fill="#000"/><rect x="144" y="482" width="5" height="24" fill="#000"/><rect x="145" y="483" width="3" height="22" fill="#fff"/><rect x="154" y="449" width="1" height="42" fill="#000"/><rect x="152" y="451" width="5" height="32" fill="#000"/><rect x="153" y="452" width="3" height="30" fill="#fff"/><rect x="162" y="445" width="1" height="12" fill="#000"/><rect x="160" y="451" width="5" height="4" fill="#000"/><rect x="170" y="446" width="1" height="13" fill="#000"/><rect x="168" y="446" width="5" height="9" fill="#000"/><rect x="169" y="447" width="3" height="7" fill="#fff"/><rect x="178" y="428" width="1" height="23" fill="#000"/><rect x="176" y="438" width="5" height="9" fill="#000"/><rect x="177" y="439" width="3" height="7" fill="#fff"/><rect x="186" y="430" width="1" height="19" fill="#000"/><rect x="184" y="438" width="5" height="3" fill="#000"/><rect x="194" y="414" width="1" height="30" fill="#000"/><rect x="192" y="435" width="5" height="5" fill="#000"/><rect x="193" y="436" width="3" height="3" fill="#fff"/><rect x="202" y="391" width="1" height="55" fill="#000"/><rect x="200" y="395" width="5" height="42" fill="#000"/><rect x="201" y="396" width="3" height="40" fill="#fff"/><rect x="210" y="395" width="1" height="13" fill="#000"/><rect x="208" y="395" width="5" height="4" fill="#000"/><rect x="218" y="391" width="1" height="10" fill="#000"/><rect x="216" y="395" width="5" height="1" fill="#000"/><rect x="226" y="338" width="1" height="59" fill="#000"/><rect x="224" y="343" width="5" height="54" fill="#000"/><rect x="225" y="344" width="3" height="52" fill="#fff"/><rect x="234" y="316" width="1" height="36" fill="#000"/><rect x="232" y="326" width="5" height="18" fill="#000"/><rect x="233" y="327" width="3" height="16" fill="#fff"/><rect x="242" y="311" width="1" height="30" fill="#000"/><rect x="240" y="326" width="5" height="3" fill="#000"/><rect x="250" y="290" width="1" height="40" fill="#000"/><rect x="248" y="293" width="5" height="37" fill="#000"/><rect x="249" y="294" width="3" height="35" fill="#fff"/><rect x="258" y="290" width="1" height="32" fill="#000"/><rect x="256" y="293" width="5" height="29" fill="#000"/><rect x="266" y="312" width="1" height="14" fill="#000"/><rect x="264" y="316" width="5" height="5" fill="#000"/><rect x="265" y="317" width="3" height="3" fill="#fff"/><rect x="274" y="309" width="1" height="18" fill="#000"/><rect x="272" y="315" width="5" height="6" fill="#000"/><rect x="282" y="307" width="1" height="37" fill="#000"/><rect x="280" y="320" width="5" height="10" fill="#000"/><rect x="290" y="289" width="1" height="53" fill="#000"/><rect x="288" y="290" width="5" height="40" fill="#000"/><rect x="289" y="291" width="3" height="38" fill="#fff"/><rect x="298" y="268" width="1" height="48" fill="#000"/><rect x="296" y="281" width="5" height="10" fill="#000"/><rect x="297" y="282" width="3" height="8" fill="#fff"/><rect x="306" y="278" width="1" height="26" fill="#000"/><rect x="304" y="280" width="5" height="18" fill="#000"/><rect x="314" y="293" width="1" height="23" fill="#000"/><rect x="312" y="295" width="5" height="19" fill="#000"/><rect x="322" y="288" width="1" height="28" fill="#000"/><rect x="320" y="293" width="5" height="21" fill="#000"/><rect x="321" y="294" width="3" height="19" fill="#fff"/><rect x="330" y="272" width="1" height="32" fill="#000"/><rect x="328" y="278" width="5" height="15" fill="#000"/><rect x="329" y="279" width="3" height="13" fill="#fff"/><rect x="338" y="261" width="1" height="24" fill="#000"/><rect x="336" y="278" width="5" height="3" fill="#000"/><rect x="346" y="267" width="1" height="30" fill="#000"/><rect x="344" y="268" width="5" height="14" fill="#000"/><rect x="345" y="269" width="3" height="12" fill="#fff"/><rect x="354" y="264" width="1" height="21" fill="#000"/><rect x="352" y="268" width="5" height="9" fill="#000"/><rect x="362" y="266" width="1" height="17" fill="#000"/><rect x="360" y="266" width="5" height="10" fill="#000"/><rect x="361" y="267" width="3" height="8" fill="#fff"/><rect x="370" y="239" width="1" height="31" fill="#000"/><rect x="368" y="244" width="5" height="24" fill="#000"/><rect x="369" y="245" width="3" height="22" fill="#fff"/><rect x="378" y="232" width="1" height="24" fill="#000"/><rect x="376" y="240" width="5" height="6" fill="#000"/><rect x="377" y="241" width="3" height="4" fill="#fff"/><rect x="386" y="217" width="1" height="28" fill="#000"/><rect x="384" y="222" width="5" height="19" fill="#000"/><rect x="385" y="223" width="3" height="17" fill="#fff"/><rect x="394" y="211" width="1" height="26" fill="#000"/><rect x="392" y="222" width="5" height="11" fill="#000"/><rect x="402" y="222" width="1" height="16" fill="#000"/><rect x="400" y="230" width="5" height="6" fill="#000"/><rect x="410" y="216" width="1" height="20" fill="#000"/><rect x="408" y="220" width="5" height="16" fill="#000"/><rect x="409" y="221" width="3" height="14" fill="#fff"/><rect x="418" y="198" width="1" height="24" fill="#000"/><rect x="416" y="199" width="5" height="22" fill="#000"/><rect x="417" y="200" width="3" height="20" fill="#fff"/><rect x="426" y="149" width="1" height="52" fill="#000"/><rect x="424" y="159" width="5" height="41" fill="#000"/><rect x="425" y="160" width="3" height="39" fill="#fff"/><rect x="434" y="110" width="1" height="52" fill="#000"/><rect x="432" y="116" width="5" height="44" fill="#000"/><rect x="433" y="117" width="3" height="42" fill="#fff"/><rect x="442" y="102" width="1" height="30" fill="#000"/><rect x="440" y="115" width="5" height="3" fill="#000"/><rect x="441" y="116" width="3" height="1" fill="#fff"/><rect x="450" y="110" width="1" height="17" fill="#000"/><rect x="448" y="114" width="5" height="12" fill="#000"/><rect x="458" y="106" width="1" height="9" fill="#000"/><rect x="456" y="108" width="5" height="2" fill="#000"/><rect x="466" y="108" width="1" height="48" fill="#000"/><rect x="464" y="108" width="5" height="19" fill="#000"/><rect x="474" y="111" width="1" height="36" fill="#000"/><rect x="472" y="122" width="5" height="5" fill="#000"/><rect x="473" y="123" width="3" height="3" fill="#fff"/><rect x="482" y="119" width="1" height="24" fill="#000"/><rect x="480" y="122" width="5" height="4" fill="#000"/><rect x="490" y="124" width="1" height="28" fill="#000"/><rect x="488" y="125" width="5" height="19" fill="#000"/><rect x="498" y="131" width="1" height="15" fill="#000"/><rect x="496" y="131" width="5" height="13" fill="#000"/><rect x="497" y="132" width="3" height="11" fill="#fff"/><rect x="506" y="131" width="1" height="12" fill="#000"/><rect x="504" y="131" width="5" height="1" fill="#000"/><rect x="514" y="118" width="1" height="21" fill="#000"/><rect x="512" y="122" width="5" height="9" fill="#000"/><rect x="513" y="123" width="3" height="7" fill="#fff"/><rect x="522" y="111" width="1" height="24" fill="#000"/><rect x="520" y="121" width="5" height="1" fill="#000"/><rect x="530" y="67" width="1" height="62" fill="#000"/><rect x="528" y="73" width="5" height="50" fill="#000"/><rect x="529" y="74" width="3" height="48" fill="#fff"/><rect x="538" y="62" width="1" height="32" fill="#000"/><rect x="536" y="73" width="5" height="8" fill="#000"/><rect x="546" y="74" width="1" height="17" fill="#000"/><rect x="544" y="80" width="5" height="7" fill="#000"/><rect x="554" y="64" width="1" height="23" fill="#000"/><rect x="552" y="67" width="5" height="19" fill="#000"/><rect x="553" y="68" width="3" height="17" fill="#fff"/><rect x="562" y="51" width="1" height="19" fill="#000"/><rect x="560" y="58" width="5" height="11" fill="#000"/><rect x="561" y="59" width="3" height="9" fill="#fff"/><rect x="570" y="51" width="1" height="53" fill="#000"/><rect x="568" y="58" width="5" height="41" fill="#000"/><rect x="578" y="83" width="1" height="35" fill="#000"/><rect x="576" y="98" width="5" height="19" fill="#000"/><rect x="586" y="66" width="1" height="64" fill="#000"/><rect x="584" y="73" width="5" height="44" fill="#000"/><rect x="585" y="74" width="3" height="42" fill="#fff"/><rect x="594" y="62" width="1" height="20" fill="#000"/><rect x="592" y="67" width="5" height="7" fill="#000"/><rect x="593" y="68" width="3" height="5" fill="#fff"/><rect x="602" y="53" width="1" height="21" fill="#000"/><rect x="600" y="59" width="5" height="9" fill="#000"/><rect x="601" y="60" width="3" height="7" fill="#fff"/><rect x="610" y="55" width="1" height="16" fill="#000"/><rect x="608" y="60" width="5" height="8" fill="#000"/><rect x="618" y="67" width="1" height="53" fill="#000"/><rect x="616" y="67" width="5" height="21" fill="#000"/><rect x="626" y="83" width="1" height="37" fill="#000"/><rect x="624" y="86" width="5" height="2" fill="#000"/><rect x="634" y="85" width="1" height="51" fill="#000"/><rect x="632" y="86" width="5" height="40" fill="#000"/><rect x="642" y="115" width="1" height="30" fill="#000"/><rect x="640" y="117" width="5" height="9" fill="#000"/><rect x="641" y="118" width="3" height="7" fill="#fff"/><rect x="650" y="111" width="1" height="22" fill="#000"/><rect x="648" y="117" width="5" height="13" fill="#000"/><rect x="658" y="87" width="1" height="44" fill="#000"/><rect x="656" y="106" width="5" height="25" fill="#000"/><rect x="657" y="107" width="3" height="23" fill="#fff"/><rect x="666" y="102" width="1" height="38" fill="#000"/><rect x="664" y="106" width="5" height="31" fill="#000"/><rect x="674" y="101" width="1" height="40" fill="#000"/><rect x="672" y="132" width="5" height="5" fill="#000"/><rect x="673" y="133" width="3" height="3" fill="#fff"/><rect x="682" y="127" width="1" height="66" fill="#000"/><rect x="680" y="132" width="5" height="59" fill="#000"/><rect x="690" y="182" width="1" height="18" fill="#000"/><rect x="688" y="191" width="5" height="2" fill="#000"/><rect x="698" y="166" width="1" height="16" fill="#000"/><rect x="696" y="167" width="5" height="9" fill="#000"/><rect x="697" y="168" width="3" height="7" fill="#fff"/><rect x="706" y="146" width="1" height="29" fill="#000"/><rect x="704" y="156" width="5" height="11" fill="#000"/><rect x="705" y="157" width="3" height="9" fill="#fff"/><rect x="714" y="141" width="1" height="32" fill="#000"/><rect x="712" y="151" width="5" height="6" fill="#000"/><rect x="713" y="152" width="3" height="4" fill="#fff"/><rect x="722" y="146" width="1" height="39" fill="#000"/><rect x="720" y="151" width="5" height="20" fill="#000"/><rect x="730" y="152" width="1" height="30" fill="#000"/><rect x="728" y="156" width="5" height="15" fill="#000"/><rect x="729" y="157" width="3" height="13" fill="#fff"/><rect x="738" y="155" width="1" height="13" fill="#000"/><rect x="736" y="156" width="5" height="6" fill="#000"/><rect x="746" y="155" width="1" height="12" fill="#000"/><rect x="744" y="157" width="5" height="4" fill="#000"/><rect x="745" y="158" width="3" height="2" fill="#fff"/><rect x="754" y="139" width="1" height="23" fill="#000"/><rect x="752" y="142" width="5" height="16" fill="#000"/><rect x="753" y="143" width="3" height="14" fill="#fff"/><rect x="762" y="119" width="1" height="30" fill="#000"/><rect x="760" y="127" width="5" height="16" fill="#000"/><rect x="761" y="128" width="3" height="14" fill="#fff"/><rect x="770" y="86" width="1" height="48" fill="#000"/><rect x="768" y="109" width="5" height="19" fill="#000"/><rect x="769" y="110" width="3" height="17" fill="#fff"/><rect x="778" y="80" width="1" height="37" fill="#000"/><rect x="776" y="109" width="5" height="6" fill="#000"/><rect x="786" y="113" width="1" height="17" fill="#000"/><rect x="784" y="114" width="5" height="13" fill="#000"/><rect x="794" y="115" width="1" height="13" fill="#000"/><rect x="792" y="118" width="5" height="9" fill="#000"/><rect x="793" y="119" width="3" height="7" fill="#fff"/><rect x="802" y="113" width="1" height="22" fill="#000"/><rect x="800" y="119" width="5" height="15" fill="#000"/><rect x="810" y="121" width="1" height="55" fill="#000"/><rect x="808" y="133" width="5" height="40" fill="#000"/><rect x="818" y="162" width="1" height="46" fill="#000"/><rect x="816" y="172" width="5" height="17" fill="#000"/><rect x="826" y="166" width="1" height="48" fill="#000"/><rect x="824" y="177" width="5" height="13" fill="#000"/><rect x="825" y="178" width="3" height="11" fill="#fff"/><rect x="834" y="158" width="1" height="25" fill="#000"/><rect x="832" y="171" width="5" height="6" fill="#000"/><rect x="833" y="172" width="3" height="4" fill="#fff"/><rect x="842" y="166" width="1" height="17" fill="#000"/><rect x="840" y="171" width="5" height="9" fill="#000"/><rect x="850" y="173" width="1" height="22" fill="#000"/><rect x="848" y="179" width="5" height="4" fill="#000"/><rect x="858" y="161" width="1" height="39" fill="#000"/><rect x="856" y="175" width="5" height="8" fill="#000"/><rect x="857" y="176" width="3" height="6" fill="#fff"/><rect x="866" y="168" width="1" height="24" fill="#000"/><rect x="864" y="174" width="5" height="8" fill="#000"/><rect x="874" y="157" width="1" height="41" fill="#000"/><rect x="872" y="161" width="5" height="20" fill="#000"/><rect x="873" y="162" width="3" height="18" fill="#fff"/><rect x="882" y="152" width="1" height="17" fill="#000"/><rect x="880" y="156" width="5" height="6" fill="#000"/><rect x="881" y="157" width="3" height="4" fill="#fff"/><rect x="890" y="144" width="1" height="19" fill="#000"/><rect x="888" y="144" width="5" height="13" fill="#000"/><rect x="889" y="145" width="3" height="11" fill="#fff"/><rect x="898" y="133" width="1" height="39" fill="#000"/><rect x="896" y="144" width="5" height="5" fill="#000"/><rect x="906" y="139" width="1" height="25" fill="#000"/><rect x="904" y="148" width="5" height="5" fill="#000"/><rect x="914" y="123" width="1" height="38" fill="#000"/><rect x="912" y="129" width="5" height="24" fill="#000"/><rect x="913" y="130" width="3" height="22" fill="#fff"/><rect x="922" y="125" width="1" height="67" fill="#000"/><rect x="920" y="129" width="5" height="61" fill="#000"/><rect x="930" y="185" width="1" height="14" fill="#000"/><rect x="928" y="189" width="5" height="9" fill="#000"/><rect x="938" y="172" width="1" height="16" fill="#000"/><rect x="936" y="175" width="5" height="6" fill="#000"/><rect x="937" y="176" width="3" height="4" fill="#fff"/><rect x="946" y="172" width="1" height="28" fill="#000"/><rect x="944" y="174" width="5" height="7" fill="#000"/><rect x="954" y="165" width="1" height="24" fill="#000"/><rect x="952" y="180" width="5" height="3" fill="#000"/><rect x="962" y="161" width="1" height="47" fill="#000"/><rect x="960" y="179" width="5" height="4" fill="#000"/><rect x="961" y="180" width="3" height="2" fill="#fff"/><rect x="970" y="168" width="1" height="31" fill="#000"/><rect x="968" y="179" width="5" height="3" fill="#000"/><rect x="978" y="181" width="1" height="39" fill="#000"/><rect x="976" y="181" width="5" height="29" fill="#000"/><rect x="986" y="201" width="1" height="14" fill="#000"/><rect x="984" y="208" width="5" height="1" fill="#000"/><rect x="994" y="204" width="1" height="28" fill="#000"/><rect x="992" y="208" width="5" height="16" fill="#000"/><rect x="1002" y="223" width="1" height="35" fill="#000"/><rect x="1000" y="223" width="5" height="21" fill="#000"/><rect x="1010" y="240" width="1" height="41" fill="#000"/><rect x="1008" y="242" width="5" height="6" fill="#000"/><rect x="1018" y="225" width="1" height="45" fill="#000"/><rect x="1016" y="247" width="5" height="19" fill="#000"/><rect x="1026" y="240" width="1" height="28" fill="#000"/><rect x="1024" y="248" width="5" height="18" fill="#000"/><rect x="1025" y="249" width="3" height="16" fill="#fff"/><rect x="1034" y="245" width="1" height="9" fill="#000"/><rect x="1032" y="248" width="5" height="2" fill="#000"/><rect x="1042" y="243" width="1" height="14" fill="#000"/><rect x="1040" y="246" width="5" height="4" fill="#000"/><rect x="1050" y="241" width="1" height="13" fill="#000"/><rect x="1048" y="249" width="5" height="1" fill="#000"/><rect x="1058" y="235" width="1" height="27" fill="#000"/><rect x="1056" y="237" width="5" height="13" fill="#000"/><rect x="1057" y="238" width="3" height="11" fill="#fff"/><rect x="1066" y="200" width="1" height="42" fill="#000"/><rect x="1064" y="207" width="5" height="31" fill="#000"/><rect x="1065" y="208" width="3" height="29" fill="#fff"/><rect x="1074" y="195" width="1" height="27" fill="#000"/><rect x="1072" y="196" width="5" height="12" fill="#000"/><rect x="1073" y="197" width="3" height="10" fill="#fff"/><rect x="1082" y="178" width="1" height="21" fill="#000"/><rect x="1080" y="181" width="5" height="16" fill="#000"/><rect x="1081" y="182" width="3" height="14" fill="#fff"/><rect x="1090" y="180" width="1" height="15" fill="#000"/><rect x="1088" y="182" width="5" height="11" fill="#000"/><rect x="1098" y="182" width="1" height="25" fill="#000"/><rect x="1096" y="192" width="5" height="3" fill="#000"/><rect x="1106" y="193" width="1" height="65" fill="#000"/><rect x="1104" y="195" width="5" height="48" fill="#000"/><rect x="1114" y="243" width="1" height="138" fill="#000"/><rect x="1112" y="243" width="5" height="125" fill="#000"/><rect x="1122" y="341" width="1" height="29" fill="#000"/><rect x="1120" y="352" width="5" height="16" fill="#000"/><rect x="1121" y="353" width="3" height="14" fill="#fff"/><rect x="1130" y="337" width="1" height="21" fill="#000"/><rect x="1128" y="338" width="5" height="16" fill="#000"/><rect x="1129" y="339" width="3" height="14" fill="#fff"/><rect x="1138" y="338" width="1" height="42" fill="#000"/><rect x="1136" y="338" width="5" height="19" fill="#000"/><rect x="1146" y="343" width="1" height="26" fill="#000"/><rect x="1144" y="346" width="5" height="10" fill="#000"/><rect x="1145" y="347" width="3" height="8" fill="#fff"/><rect x="1154" y="346" width="1" height="54" fill="#000"/><rect x="1152" y="346" width="5" height="41" fill="#000"/><rect x="1162" y="363" width="1" height="35" fill="#000"/><rect x="1160" y="384" width="5" height="3" fill="#000"/><rect x="1161" y="385" width="3" height="1" fill="#fff"/><rect x="1170" y="379" width="1" height="18" fill="#000"/><rect x="1168" y="384" width="5" height="12" fill="#000"/><rect x="1178" y="377" width="1" height="13" fill="#000"/><rect x="1176" y="382" width="5" height="8" fill="#000"/><rect x="1177" y="383" width="3" height="6" fill="#fff"/><rect x="1186" y="369" width="1" height="20" fill="#000"/><rect x="1184" y="374" width="5" height="9" fill="#000"/><rect x="1185" y="375" width="3" height="7" fill="#fff"/><rect x="1194" y="368" width="1" height="18" fill="#000"/><rect x="1192" y="374" width="5" height="8" fill="#000"/><rect x="1202" y="362" width="1" height="44" fill="#000"/><rect x="1200" y="362" width="5" height="19" fill="#000"/><rect x="1201" y="363" width="3" height="17" fill="#fff"/><rect x="1210" y="345" width="1" height="30" fill="#000"/><rect x="1208" y="354" width="5" height="10" fill="#000"/><rect x="1209" y="355" width="3" height="8" fill="#fff"/><rect x="1218" y="351" width="1" height="12" fill="#000"/><rect x="1216" y="354" width="5" height="3" fill="#000"/><rect x="1226" y="345" width="1" height="12" fill="#000"/><rect x="1224" y="347" width="5" height="10" fill="#000"/><rect x="1225" y="348" width="3" height="8" fill="#fff"/><rect x="1234" y="346" width="1" height="47" fill="#000"/><rect x="1232" y="346" width="5" height="43" fill="#000"/><rect x="1242" y="371" width="1" height="20" fill="#000"/><rect x="1240" y="381" width="5" height="8" fill="#000"/><rect x="1241" y="382" width="3" height="6" fill="#fff"/><rect x="1250" y="351" width="1" height="33" fill="#000"/><rect x="1248" y="368" width="5" height="14" fill="#000"/><rect x="1249" y="369" width="3" height="12" fill="#fff"/><rect x="1258" y="361" width="1" height="41" fill="#000"/><rect x="1256" y="367" width="5" height="20" fill="#000"/><rect x="1266" y="377" width="1" height="27" fill="#000"/><rect x="1264" y="385" width="5" height="2" fill="#000"/><rect x="1274" y="378" width="1" height="16" fill="#000"/><rect x="1272" y="380" width="5" height="6" fill="#000"/><rect x="1273" y="381" width="3" height="4" fill="#fff"/><rect x="1282" y="377" width="1" height="19" fill="#000"/><rect x="1280" y="380" width="5" height="8" fill="#000"/><rect x="1290" y="363" width="1" height="31" fill="#000"/><rect x="1288" y="368" width="5" height="20" fill="#000"/><rect x="1289" y="369" width="3" height="18" fill="#fff"/><rect x="1298" y="363" width="1" height="39" fill="#000"/><rect x="1296" y="368" width="5" height="22" fill="#000"/><rect x="1306" y="339" width="1" height="64" fill="#000"/><rect x="1304" y="356" width="5" height="33" fill="#000"/><rect x="1305" y="357" width="3" height="31" fill="#fff"/><rect x="1314" y="341" width="1" height="69" fill="#000"/><rect x="1312" y="357" width="5" height="52" fill="#000"/><rect x="1322" y="401" width="1" height="14" fill="#000"/><rect x="1320" y="402" width="5" height="7" fill="#000"/><rect x="1321" y="403" width="3" height="5" fill="#fff"/><rect x="1330" y="386" width="1" height="19" fill="#000"/><rect x="1328" y="397" width="5" height="6" fill="#000"/><rect x="1329" y="398" width="3" height="4" fill="#fff"/><rect x="1338" y="386" width="1" height="23" fill="#000"/><rect x="1336" y="397" width="5" height="6" fill="#000"/><rect x="1346" y="392" width="1" height="32" fill="#000"/><rect x="1344" y="402" width="5" height="6" fill="#000"/><rect x="1354" y="398" width="1" height="26" fill="#000"/><rect x="1352" y="407" width="5" height="5" fill="#000"/><rect x="1362" y="405" width="1" height="22" fill="#000"/><rect x="1360" y="411" width="5" height="11" fill="#000"/><rect x="1370" y="418" width="1" height="10" fill="#000"/><rect x="1368" y="421" width="5" height="4" fill="#000"/><rect x="1369" y="422" width="3" height="2" fill="#fff"/><rect x="1378" y="404" width="1" height="23" fill="#000"/><rect x="1376" y="410" width="5" height="15" fill="#000"/><rect x="1377" y="411" width="3" height="13" fill="#fff"/><rect x="1386" y="392" width="1" height="23" fill="#000"/><rect x="1384" y="407" width="5" height="3" fill="#000"/><rect x="1385" y="408" width="3" height="1" fill="#fff"/><rect x="1394" y="392" width="1" height="23" fill="#000"/><rect x="1392" y="403" width="5" height="5" fill="#000"/><rect x="1393" y="404" width="3" height="3" fill="#fff"/><rect x="1402" y="401" width="1" height="21" fill="#000"/><rect x="1400" y="403" width="5" height="10" fill="#000"/><rect x="1410" y="391" width="1" height="22" fill="#000"/><rect x="1408" y="396" width="5" height="17" fill="#000"/><rect x="1409" y="397" width="3" height="15" fill="#fff"/></g>
<g shape-rendering="crispEdges"><rect x="2" y="672" width="1" height="5" fill="#c0c0c0"/><rect x="10" y="672" width="1" height="2" fill="#c0c0c0"/><rect x="26" y="671" width="1" height="2" fill="#c0c0c0"/><rect x="34" y="668" width="1" height="5" fill="#c0c0c0"/><rect x="42" y="666" width="1" height="7" fill="#c0c0c0"/><rect x="50" y="662" width="1" height="11" fill="#c0c0c0"/><rect x="58" y="656" width="1" height="17" fill="#c0c0c0"/><rect x="66" y="652" width="1" height="21" fill="#c0c0c0"/><rect x="74" y="649" width="1" height="24" fill="#c0c0c0"/><rect x="82" y="646" width="1" height="27" fill="#c0c0c0"/><rect x="90" y="648" width="1" height="25" fill="#c0c0c0"/><rect x="98" y="652" width="1" height="21" fill="#c0c0c0"/><rect x="106" y="656" width="1" height="17" fill="#c0c0c0"/><rect x="114" y="657" width="1" height="16" fill="#c0c0c0"/><rect x="122" y="658" width="1" height="15" fill="#c0c0c0"/><rect x="130" y="659" width="1" height="14" fill="#c0c0c0"/><rect x="138" y="661" width="1" height="12" fill="#c0c0c0"/><rect x="146" y="661" width="1" height="12" fill="#c0c0c0"/><rect x="154" y="657" width="1" height="16" fill="#c0c0c0"/><rect x="162" y="655" width="1" height="18" fill="#c0c0c0"/><rect x="170" y="652" width="1" height="21" fill="#c0c0c0"/><rect x="178" y="650" width="1" height="23" fill="#c0c0c0"/><rect x="186" y="648" width="1" height="25" fill="#c0c0c0"/><rect x="194" y="647" width="1" height="26" fill="#c0c0c0"/><rect x="202" y="642" width="1" height="31" fill="#c0c0c0"/><rect x="210" y="638" width="1" height="35" fill="#c0c0c0"/><rect x="218" y="636" width="1" height="37" fill="#c0c0c0"/><rect x="226" y="628" width="1" height="45" fill="#c0c0c0"/><rect x="234" y="621" width="1" height="52" fill="#c0c0c0"/><rect x="242" y="616" width="1" height="57" fill="#c0c0c0"/><rect x="250" y="609" width="1" height="64" fill="#c0c0c0"/><rect x="258" y="608" width="1" height="65" fill="#c0c0c0"/><rect x="266" y="607" width="1" height="66" fill="#c0c0c0"/><rect x="274" y="607" width="1" height="66" fill="#c0c0c0"/><rect x="282" y="609" width="1" height="64" fill="#c0c0c0"/><rect x="290" y="607" width="1" height="66" fill="#c0c0c0"/><rect x="298" y="605" width="1" height="68" fill="#c0c0c0"/><rect x="306" y="607" width="1" height="66" fill="#c0c0c0"/><rect x="314" y="610" width="1" height="63" fill="#c0c0c0"/><rect x="322" y="611" width="1" height="62" fill="#c0c0c0"/><rect x="330" y="611" width="1" height="62" fill="#c0c0c0"/><rect x="338" y="612" width="1" height="61" fill="#c0c0c0"/><rect x="346" y="612" width="1" height="61" fill="#c0c0c0"/><rect x="354" y="614" width="1" height="59" fill="#c0c0c0"/><rect x="362" y="615" width="1" height="58" fill="#c0c0c0"/><rect x="370" y="614" width="1" height="59" fill="#c0c0c0"/><rect x="378" y="613" width="1" height="60" fill="#c0c0c0"/><rect x="386" y="611" width="1" height="62" fill="#c0c0c0"/><rect x="394" y="612" width="1" height="61" fill="#c0c0c0"/><rect x="402" y="613" width="1" height="60" fill="#c0c0c0"/><rect x="410" y="613" width="1" height="60" fill="#c0c0c0"/><rect x="418" y="612" width="1" height="61" fill="#c0c0c0"/><rect x="426" y="607" width="1" height="66" fill="#c0c0c0"/><rect x="434" y="599" width="1" height="74" fill="#c0c0c0"/><rect x="442" y="594" width="1" height="79" fill="#c0c0c0"/><rect x="450" y="592" width="1" height="81" fill="#c0c0c0"/><rect x="458" y="589" width="1" height="84" fill="#c0c0c0"/><rect x="466" y="590" width="1" height="83" fill="#c0c0c0"/><rect x="474" y="591" width="1" height="82" fill="#c0c0c0"/><rect x="482" y="593" width="1" height="80" fill="#c0c0c0"/><rect x="490" y="598" width="1" height="75" fill="#c0c0c0"/><rect x="498" y="601" width="1" height="72" fill="#c0c0c0"/><rect x="506" y="604" width="1" height="69" fill="#c0c0c0"/><rect x="514" y="607" width="1" height="66" fill="#c0c0c0"/><rect x="522" y="609" width="1" height="64" fill="#c0c0c0"/><rect x="530" y="607" width="1" height="66" fill="#c0c0c0"/><rect x="538" y="606" width="1" height="67" fill="#c0c0c0"/><rect x="546" y="607" width="1" height="66" fill="#c0c0c0"/><rect x="554" y="607" width="1" height="66" fill="#c0c0c0"/><rect x="562" y="606" width="1" height="67" fill="#c0c0c0"/><rect x="570" y="611" width="1" height="62" fill="#c0c0c0"/><rect x="578" y="617" width="1" height="56" fill="#c0c0c0"/><rect x="586" y="618" width="1" height="55" fill="#c0c0c0"/><rect x="594" y="619" width="1" height="54" fill="#c0c0c0"/><rect x="602" y="619" width="1" height="54" fill="#c0c0c0"/><rect x="610" y="621" width="1" height="52" fill="#c0c0c0"/><rect x="618" y="625" width="1" height="48" fill="#c0c0c0"/><rect x="626" y="628" width="1" height="45" fill="#c0c0c0"/><rect x="634" y="636" width="1" height="37" fill="#c0c0c0"/><rect x="642" y="642" width="1" height="31" fill="#c0c0c0"/><rect x="650" y="648" width="1" height="25" fill="#c0c0c0"/><rect x="658" y="650" width="1" height="23" fill="#c0c0c0"/><rect x="666" y="656" width="1" height="17" fill="#c0c0c0"/><rect x="674" y="660" width="1" height="13" fill="#c0c0c0"/><rect x="682" y="670" width="1" height="3" fill="#c0c0c0"/><rect x="690" y="672" width="1" height="4" fill="#c0c0c0"/><rect x="698" y="672" width="1" height="8" fill="#c0c0c0"/><rect x="706" y="672" width="1" height="9" fill="#c0c0c0"/><rect x="714" y="672" width="1" height="10" fill="#c0c0c0"/><rect x="722" y="672" width="1" height="12" fill="#c0c0c0"/><rect x="730" y="672" width="1" height="12" fill="#c0c0c0"/><rect x="738" y="672" width="1" height="13" fill="#c0c0c0"/><rect x="746" y="672" width="1" height="13" fill="#c0c0c0"/><rect x="754" y="672" width="1" height="11" fill="#c0c0c0"/><rect x="762" y="672" width="1" height="7" fill="#c0c0c0"/><rect x="770" y="672" width="1" height="3" fill="#c0c0c0"/><rect x="786" y="672" width="1" height="1" fill="#c0c0c0"/><rect x="794" y="670" width="1" height="3" fill="#c0c0c0"/><rect x="802" y="670" width="1" height="3" fill="#c0c0c0"/><rect x="810" y="672" width="1" height="2" fill="#c0c0c0"/><rect x="818" y="672" width="1" height="7" fill="#c0c0c0"/><rect x="826" y="672" width="1" height="10" fill="#c0c0c0"/><rect x="834" y="672" width="1" height="12" fill="#c0c0c0"/><rect x="842" y="672" width="1" height="14" fill="#c0c0c0"/><rect x="850" y="672" width="1" height="15" fill="#c0c0c0"/><rect x="858" y="672" width="1" height="16" fill="#c0c0c0"/><rect x="866" y="672" width="1" height="16" fill="#c0c0c0"/><rect x="874" y="672" width="1" height="15" fill="#c0c0c0"/><rect x="882" y="672" width="1" height="13" fill="#c0c0c0"/><rect x="890" y="672" width="1" height="9" fill="#c0c0c0"/><rect x="898" y="672" width="1" height="7" fill="#c0c0c0"/><rect x="906" y="672" width="1" height="6" fill="#c0c0c0"/><rect x="914" y="672" width="1" height="3" fill="#c0c0c0"/><rect x="922" y="672" width="1" height="6" fill="#c0c0c0"/><rect x="930" y="672" width="1" height="10" fill="#c0c0c0"/><rect x="938" y="672" width="1" height="10" fill="#c0c0c0"/><rect x="946" y="672" width="1" height="11" fill="#c0c0c0"/><rect x="954" y="672" width="1" height="12" fill="#c0c0c0"/><rect x="962" y="672" width="1" height="12" fill="#c0c0c0"/><rect x="970" y="672" width="1" height="12" fill="#c0c0c0"/><rect x="978" y="672" width="1" height="15" fill="#c0c0c0"/><rect x="986" y="672" width="1" height="17" fill="#c0c0c0"/><rect x="994" y="672" width="1" height="20" fill="#c0c0c0"/><rect x="1002" y="672" width="1" height="25" fill="#c0c0c0"/><rect x="1010" y="672" width="1" height="29" fill="#c0c0c0"/><rect x="1018" y="672" width="1" height="33" fill="#c0c0c0"/><rect x="1026" y="672" width="1" height="34" fill="#c0c0c0"/><rect x="1034" y="672" width="1" height="35" fill="#c0c0c0"/><rect x="1042" y="672" width="1" height="35" fill="#c0c0c0"/><rect x="1050" y="672" width="1" height="35" fill="#c0c0c0"/><rect x="1058" y="672" width="1" height="33" fill="#c0c0c0"/><rect x="1066" y="672" width="1" height="28" fill="#c0c0c0"/><rect x="1074" y="672" width="1" height="22" fill="#c0c0c0"/><rect x="1082" y="672" width="1" height="16" fill="#c0c0c0"/><rect x="1090" y="672" width="1" height="12" fill="#c0c0c0"/><rect x="1098" y="672" width="1" height="9" fill="#c0c0c0"/><rect x="1106" y="672" width="1" height="12" fill="#c0c0c0"/><rect x="1114" y="672" width="1" height="28" fill="#c0c0c0"/><rect x="1122" y="672" width="1" height="38" fill="#c0c0c0"/><rect x="1130" y="672" width="1" height="45" fill="#c0c0c0"/><rect x="1138" y="672" width="1" height="51" fill="#c0c0c0"/><rect x="1146" y="672" width="1" height="54" fill="#c0c0c0"/><rect x="1154" y="672" width="1" height="61" fill="#c0c0c0"/><rect x="1162" y="672" width="1" height="65" fill="#c0c0c0"/><rect x="1170" y="672" width="1" height="69" fill="#c0c0c0"/><rect x="1178" y="672" width="1" height="69" fill="#c0c0c0"/><rect x="1186" y="672" width="1" height="68" fill="#c0c0c0"/><rect x="1194" y="672" width="1" height="67" fill="#c0c0c0"/><rect x="1202" y="672" width="1" height="64" fill="#c0c0c0"/><rect x="1210" y="672" width="1" height="59" fill="#c0c0c0"/><rect x="1218" y="672" width="1" height="55" fill="#c0c0c0"/><rect x="1226" y="672" width="1" height="51" fill="#c0c0c0"/><rect x="1234" y="672" width="1" height="51" fill="#c0c0c0"/><rect x="1242" y="672" width="1" height="50" fill="#c0c0c0"/><rect x="1250" y="672" width="1" height="47" fill="#c0c0c0"/><rect x="1258" y="672" width="1" height="46" fill="#c0c0c0"/><rect x="1266" y="672" width="1" height="45" fill="#c0c0c0"/><rect x="1274" y="672" width="1" height="43" fill="#c0c0c0"/><rect x="1282" y="672" width="1" height="42" fill="#c0c0c0"/><rect x="1290" y="672" width="1" height="38" fill="#c0c0c0"/><rect x="1298" y="672" width="1" height="37" fill="#c0c0c0"/><rect x="1306" y="672" width="1" height="32" fill="#c0c0c0"/><rect x="1314" y="672" width="1" height="34" fill="#c0c0c0"/><rect x="1322" y="672" width="1" height="34" fill="#c0c0c0"/><rect x="1330" y="672" width="1" height="33" fill="#c0c0c0"/><rect x="1338" y="672" width="1" height="33" fill="#c0c0c0"/><rect x="1346" y="672" width="1" height="33" fill="#c0c0c0"/><rect x="1354" y="672" width="1" height="33" fill="#c0c0c0"/><rect x="1362" y="672" width="1" height="34" fill="#c0c0c0"/><rect x="1370" y="672" width="1" height="34" fill="#c0c0c0"/><rect x="1378" y="672" width="1" height="32" fill="#c0c0c0"/><rect x="1386" y="672" width="1" height="30" fill="#c0c0c0"/><rect x="1394" y="672" width="1" height="28" fill="#c0c0c0"/><rect x="1402" y="672" width="1" height="27" fill="#c0c0c0"/><rect x="1410" y="672" width="1" height="24" fill="#c0c0c0"/></g>
<g shape-rendering="crispEdges"><path d="M25 681.5h2M745 681.5h2M775 681.5h2M780 681.5h3M930 681.5h3M936 681.5h3M960 681.5h3M966 681.5h3M972 681.5h3M450 605.5h2M559 605.5h2M564 605.5h3M1050 701.5h3M1086 701.5h3M97 654.5h2M144 654.5h3M192 654.5h3M751 682.5h2M756 682.5h3M762 682.5h3M768 682.5h3M865 682.5h2M919 682.5h2M924 682.5h3M978 682.5h3M36 677.5h3M798 677.5h3M846 677.5h3M162 656.5h3M168 656.5h3M174 656.5h3M180 656.5h3M301 608.5h2M336 608.5h3M439 608.5h2M582 608.5h3M1026 694.5h2M1105 694.5h2M1110 694.5h3M1116 694.5h3M1122 694.5h3M487 594.5h2M492 594.5h3M504 594.5h3M517 596.5h2M1368 705.5h3M1374 705.5h3M1380 705.5h3M1386 705.5h3M1255 727.5h2M1171 720.5h2M217 646.5h2M1297 716.5h2M306 607.5h3M312 607.5h3M318 607.5h3M324 607.5h3M330 607.5h3M576 607.5h3M343 609.5h2M348 609.5h3M354 609.5h3M588 609.5h3M1009 689.5h2M882 685.5h3M888 685.5h3M894 685.5h3M900 685.5h3M991 685.5h2M1344 707.5h3M103 653.5h2M108 653.5h3M138 653.5h3M198 653.5h3M1261 725.5h2M223 644.5h2M289 612.5h2M378 612.5h3M384 612.5h3M390 612.5h3M396 612.5h3M402 612.5h3M408 612.5h3M414 612.5h3M420 612.5h3M606 612.5h3M1201 735.5h2M1224 735.5h3M1285 719.5h2M1063 704.5h2M1068 704.5h3M1074 704.5h3M1392 704.5h3M1398 704.5h3M1404 704.5h3M468 599.5h3M529 599.5h2M1188 731.5h3M1242 731.5h3M445 606.5h2M570 606.5h3M1038 698.5h3M367 611.5h2M372 611.5h3M426 611.5h3M600 611.5h3M78 661.5h2M738 678.5h2M793 678.5h2M1273 722.5h2M270 620.5h2M474 597.5h3M522 597.5h3M295 610.5h2M360 610.5h3M432 610.5h3M594 610.5h3M1230 734.5h3M282 615.5h2M618 615.5h3M1128 695.5h3M1152 706.5h2M1351 706.5h2M1356 706.5h3M1362 706.5h3M114 652.5h3M120 652.5h3M126 652.5h3M132 652.5h3M691 652.5h2M276 617.5h3M625 617.5h2M1057 703.5h2M1147 703.5h2M870 683.5h3M912 683.5h3M204 651.5h3M457 602.5h2M546 602.5h3M18 684.5h2M876 684.5h3M906 684.5h3M985 684.5h2M462 601.5h3M540 601.5h3M816 674.5h3M822 674.5h3M828 674.5h3M90 657.5h2M234 639.5h2M672 639.5h2M42 675.5h2M732 675.5h2M810 675.5h3M834 675.5h3M786 680.5h3M858 680.5h3M943 680.5h2M948 680.5h3M954 680.5h3M1045 700.5h2M1327 710.5h2M253 629.5h2M654 629.5h2M1092 699.5h3M1140 699.5h2M258 626.5h2M1020 692.5h3M1207 736.5h2M1212 736.5h3M1218 736.5h3M1033 697.5h2M1098 697.5h2M1135 697.5h2M1014 690.5h3M12 686.5h3M997 686.5h2M85 658.5h2M1320 711.5h3M1194 733.5h3M498 593.5h3M804 676.5h3M840 676.5h3M55 670.5h2M720 669.5h2M649 627.5h2M151 655.5h2M156 655.5h3M186 655.5h3M642 624.5h2M66 666.5h2M714 666.5h2M246 633.5h2M73 663.5h2M708 663.5h2M636 621.5h2M240 636.5h2M667 636.5h2M660 632.5h2M1314 712.5h3M264 623.5h2M49 672.5h2M726 672.5h2M1165 715.5h2M1302 715.5h3M613 614.5h2M7 688.5h2M60 668.5h3M1338 708.5h3M481 595.5h2M511 595.5h2M1290 718.5h3M553 604.5h2M534 600.5h3M1333 709.5h2M1237 732.5h2M1278 721.5h3M1081 702.5h2M31 679.5h2M853 679.5h2M1266 724.5h3M1249 729.5h2M210 649.5h2M0 691.5h2M631 619.5h2M228 642.5h2M1002 687.5h3M1309 713.5h2M750.5 681v1M864.5 681v1M942.5 681v1M102.5 654v1M150.5 654v1M24.5 682v1M774.5 682v1M92.5 656v1M697.5 656v1M342.5 608v1M510.5 594v1M480.5 596v1M1182.5 727v1M1284.5 720v1M684.5 646v1M444.5 607v1M300.5 609v1M438.5 609v1M6.5 689v1M996.5 685v1M1154.5 707v1M1350.5 707v1M1178.5 725v1M680.5 644v1M1206.5 735v1M1170.5 719v1M266.5 622v1M638.5 622v1M294.5 611v1M704.5 661v1M852.5 678v1M48.5 673v1M728.5 673v1M366.5 610v1M1200.5 734v1M1028.5 695v1M1104.5 695v1M1062.5 703v1M1080.5 703v1M1410.5 703v1M20.5 683v1M918.5 683v1M984.5 683v1M690.5 651v1M990.5 684v1M44.5 674v1M698.5 657v1M30.5 680v1M744.5 680v1M1142.5 700v1M1159.5 710v1M1332.5 710v1M1044.5 699v1M1164.5 714v1M1308.5 714v1M648.5 626v1M1032.5 696v1M1100.5 696v1M1134.5 696v1M1183.5 728v1M1254.5 728v1M216.5 647v1M685.5 647v1M528.5 598v1M1296.5 717v1M2.5 690v1M1160.5 711v1M1326.5 711v1M1236.5 733v1M734.5 676v1M722.5 670v1M96.5 655v1M696.5 655v1M662.5 633v1M212.5 648v1M686.5 648v1M716.5 667v1M248.5 632v1M630.5 618v1M252.5 630v1M656.5 630v1M284.5 614v1M1008.5 688v1M242.5 635v1M666.5 635v1M486.5 595v1M516.5 595v1M452.5 604v1M558.5 604v1M1158.5 709v1M1056.5 702v1M1146.5 702v1M740.5 679v1M792.5 679v1M1177.5 724v1M1184.5 729v1M84.5 659v1M702.5 659v1M80.5 660v1M703.5 660v1M236.5 638v1M624.5 616v1M272.5 619v1M72.5 664v1M710.5 664v1M678.5 642v1M456.5 603v1M552.5 603v1M288.5 613v1M612.5 613v1M679.5 643v1M674.5 640v1M230.5 641v1M54.5 671v1M222.5 645v1M260.5 625v1M644.5 625v1M1248.5 730v1M1176.5 723v1M1272.5 723v1M1260.5 726v1M68.5 665v1" stroke="#ff0000" stroke-width="1" fill="none"/></g>
<g shape-rendering="crispEdges"><path d="M1 787.5h3M7 787.5h3M13 787.5h3M19 787.5h3M25 787.5h3M31 787.5h3M37 787.5h3M43 787.5h3M49 787.5h3M55 787.5h3M61 787.5h3M67 787.5h3M73 787.5h3M79 787.5h3M85 787.5h3M91 787.5h3M97 787.5h3M103 787.5h3M109 787.5h3M115 787.5h3M121 787.5h3M127 787.5h3M133 787.5h3M139 787.5h3M145 787.5h3M151 787.5h3M157 787.5h3M163 787.5h3M169 787.5h3M175 787.5h3M181 787.5h3M187 787.5h3M193 787.5h3M199 787.5h3M205 787.5h3M211 787.5h3M217 787.5h3M223 787.5h3M229 787.5h3M235 787.5h3M241 787.5h3M247 787.5h3M253 787.5h3M259 787.5h3M265 787.5h3M271 787.5h3M277 787.5h3M283 787.5h3M289 787.5h3M295 787.5h3M301 787.5h3M307 787.5h3M313 787.5h3M319 787.5h3M325 787.5h3M331 787.5h3M337 787.5h3M343 787.5h3M349 787.5h3M355 787.5h3M361 787.5h3M367 787.5h3M373 787.5h3M379 787.5h3M385 787.5h3M391 787.5h3M397 787.5h3M403 787.5h3M409 787.5h3M415 787.5h3M421 787.5h3M427 787.5h3M433 787.5h3M439 787.5h3M445 787.5h3M451 787.5h3M457 787.5h3M463 787.5h3M469 787.5h3M475 787.5h3M481 787.5h3M487 787.5h3M493 787.5h3M499 787.5h3M505 787.5h3M511 787.5h3M517 787.5h3M523 787.5h3M529 787.5h3M535 787.5h3M541 787.5h3M547 787.5h3M553 787.5h3M559 787.5h3M565 787.5h3M571 787.5h3M577 787.5h3M583 787.5h3M589 787.5h3M595 787.5h3M601 787.5h3M607 787.5h3M613 787.5h3M619 787.5h3M625 787.5h3M631 787.5h3M637 787.5h3M643 787.5h3M649 787.5h3M655 787.5h3M661 787.5h3M667 787.5h3M673 787.5h3M679 787.5h3M685 787.5h3M691 787.5h3M697 787.5h3M703 787.5h3M709 787.5h3M715 787.5h3M721 787.5h3M727 787.5h3M733 787.5h3M739 787.5h3M745 787.5h3M751 787.5h3M757 787.5h3M763 787.5h3M769 787.5h3M775 787.5h3M781 787.5h3M787 787.5h3M793 787.5h3M799 787.5h3M805 787.5h3M811 787.5h3M817 787.5h3M823 787.5h3M829 787.5h3M835 787.5h3M841 787.5h3M847 787.5h3M853 787.5h3M859 787.5h3M865 787.5h3M871 787.5h3M877 787.5h3M883 787.5h3M889 787.5h3M895 787.5h3M901 787.5h3M907 787.5h3M913 787.5h3M919 787.5h3M925 787.5h3M931 787.5h3M937 787.5h3M943 787.5h3M949 787.5h3M955 787.5h3M961 787.5h3M967 787.5h3M973 787.5h3M979 787.5h3M985 787.5h3M991 787.5h3M997 787.5h3M1003 787.5h3M1009 787.5h3M1015 787.5h3M1021 787.5h3M1027 787.5h3M1033 787.5h3M1039 787.5h3M1045 787.5h3M1051 787.5h3M1057 787.5h3M1063 787.5h3M1069 787.5h3M1075 787.5h3M1081 787.5h3M1087 787.5h3M1093 787.5h3M1099 787.5h3M1105 787.5h3M1111 787.5h3M1117 787.5h3M1123 787.5h3M1129 787.5h3M1135 787.5h3M1141 787.5h3M1147 787.5h3M1153 787.5h3M1159 787.5h3M1165 787.5h3M1171 787.5h3M1177 787.5h3M1183 787.5h3M1189 787.5h3M1195 787.5h3M1201 787.5h3M1207 787.5h3M1213 787.5h3M1219 787.5h3M1225 787.5h3M1231 787.5h3M1237 787.5h3M1243 787.5h3M1249 787.5h3M1255 787.5h3M1261 787.5h3M1267 787.5h3M1273 787.5h3M1279 787.5h3M1285 787.5h3M1291 787.5h3M1297 787.5h3M1303 787.5h3M1309 787.5h3M1315 787.5h3M1321 787.5h3M1327 787.5h3M1333 787.5h3M1339 787.5h3M1345 787.5h3M1351 787.5h3M1357 787.5h3M1363 787.5h3M1369 787.5h3M1375 787.5h3M1381 787.5h3M1387 787.5h3M1393 787.5h3M1399 787.5h3M1405 787.5h3M1411 787.5h3M1417 787.5h3M1423 787.5h3M1429 787.5h3M1435 787.5h3M1441 787.5h3M1447 787.5h3M1453 787.5h3M1459 787.5h3M1465 787.5h3M1471 787.5h3M1477 787.5h3M1483 787.5h3M1489 787.5h3M1495 787.5h3M1501 787.5h3M1507 787.5h3M1513 787.5h3M1519 787.5h3M1525 787.5h3M1531 787.5h3M1537 787.5h3M1543 787.5h3M1549 787.5h3M1555 787.5h3M1561 787.5h3M1567 787.5h3M1573 787.5h3M1579 787.5h3M1585 787.5h3M1591 787.5h3M1597 787.5h3M1603 787.5h3M1609 787.5h3M1615 787.5h3M1621 787.5h3M1627 787.5h3M1633 787.5h3M1639 787.5h3M1645 787.5h3M1651 787.5h2" stroke="#c0c0c0" stroke-width="1" fill="none"/><path d="M1 838.5h3M7 838.5h3M13 838.5h3M19 838.5h3M25 838.5h3M31 838.5h3M37 838.5h3M43 838.5h3M49 838.5h3M55 838.5h3M61 838.5h3M67 838.5h3M73 838.5h3M79 838.5h3M85 838.5h3M91 838.5h3M97 838.5h3M103 838.5h3M109 838.5h3M115 838.5h3M121 838.5h3M127 838.5h3M133 838.5h3M139 838.5h3M145 838.5h3M151 838.5h3M157 838.5h3M163 838.5h3M169 838.5h3M175 838.5h3M181 838.5h3M187 838.5h3M193 838.5h3M199 838.5h3M205 838.5h3M211 838.5h3M217 838.5h3M223 838.5h3M229 838.5h3M235 838.5h3M241 838.5h3M247 838.5h3M253 838.5h3M259 838.5h3M265 838.5h3M271 838.5h3M277 838.5h3M283 838.5h3M289 838.5h3M295 838.5h3M301 838.5h3M307 838.5h3M313 838.5h3M319 838.5h3M325 838.5h3M331 838.5h3M337 838.5h3M343 838.5h3M349 838.5h3M355 838.5h3M361 838.5h3M367 838.5h3M373 838.5h3M379 838.5h3M385 838.5h3M391 838.5h3M397 838.5h3M403 838.5h3M409 838.5h3M415 838.5h3M421 838.5h3M427 838.5h3M433 838.5h3M439 838.5h3M445 838.5h3M451 838.5h3M457 838.5h3M463 838.5h3M469 838.5h3M475 838.5h3M481 838.5h3M487 838.5h3M493 838.5h3M499 838.5h3M505 838.5h3M511 838.5h3M517 838.5h3M523 838.5h3M529 838.5h3M535 838.5h3M541 838.5h3M547 838.5h3M553 838.5h3M559 838.5h3M565 838.5h3M571 838.5h3M577 838.5h3M583 838.5h3M589 838.5h3M595 838.5h3M601 838.5h3M607 838.5h3M613 838.5h3M619 838.5h3M625 838.5h3M631 838.5h3M637 838.5h3M643 838.5h3M649 838.5h3M655 838.5h3M661 838.5h3M667 838.5h3M673 838.5h3M679 838.5h3M685 838.5h3M691 838.5h3M697 838.5h3M703 838.5h3M709 838.5h3M715 838.5h3M721 838.5h3M727 838.5h3M733 838.5h3M739 838.5h3M745 838.5h3M751 838.5h3M757 838.5h3M763 838.5h3M769 838.5h3M775 838.5h3M781 838.5h3M787 838.5h3M793 838.5h3M799 838.5h3M805 838.5h3M811 838.5h3M817 838.5h3M823 838.5h3M829 838.5h3M835 838.5h3M841 838.5h3M847 838.5h3M853 838.5h3M859 838.5h3M865 838.5h3M871 838.5h3M877 838.5h3M883 838.5h3M889 838.5h3M895 838.5h3M901 838.5h3M907 838.5h3M913 838.5h3M919 838.5h3M925 838.5h3M931 838.5h3M937 838.5h3M943 838.5h3M949 838.5h3M955 838.5h3M961 838.5h3M967 838.5h3M973 838.5h3M979 838.5h3M985 838.5h3M991 838.5h3M997 838.5h3M1003 838.5h3M1009 838.5h3M1015 838.5h3M1021 838.5h3M1027 838.5h3M1033 838.5h3M1039 838.5h3M1045 838.5h3M1051 838.5h3M1057 838.5h3M1063 838.5h3M1069 838.5h3M1075 838.5h3M1081 838.5h3M1087 838.5h3M1093 838.5h3M1099 838.5h3M1105 838.5h3M1111 838.5h3M1117 838.5h3M1123 838.5h3M1129 838.5h3M1135 838.5h3M1141 838.5h3M1147 838.5h3M1153 838.5h3M1159 838.5h3M1165 838.5h3M1171 838.5h3M1177 838.5h3M1183 838.5h3M1189 838.5h3M1195 838.5h3M1201 838.5h3M1207 838.5h3M1213 838.5h3M1219 838.5h3M1225 838.5h3M1231 838.5h3M1237 838.5h3M1243 838.5h3M1249 838.5h3M1255 838.5h3M1261 838.5h3M1267 838.5h3M1273 838.5h3M1279 838.5h3M1285 838.5h3M1291 838.5h3M1297 838.5h3M1303 838.5h3M1309 838.5h3M1315 838.5h3M1321 838.5h3M1327 838.5h3M1333 838.5h3M1339 838.5h3M1345 838.5h3M1351 838.5h3M1357 838.5h3M1363 838.5h3M1369 838.5h3M1375 838.5h3M1381 838.5h3M1387 838.5h3M1393 838.5h3M1399 838.5h3M1405 838.5h3M1411 838.5h3M1417 838.5h3M1423 838.5h3M1429 838.5h3M1435 838.5h3M1441 838.5h3M1447 838.5h3M1453 838.5h3M1459 838.5h3M1465 838.5h3M1471 838.5h3M1477 838.5h3M1483 838.5h3M1489 838.5h3M1495 838.5h3M1501 838.5h3M1507 838.5h3M1513 838.5h3M1519 838.5h3M1525 838.5h3M1531 838.5h3M1537 838.5h3M1543 838.5h3M1549 838.5h3M1555 838.5h3M1561 838.5h3M1567 838.5h3M1573 838.5h3M1579 838.5h3M1585 838.5h3M1591 838.5h3M1597 838.5h3M1603 838.5h3M1609 838.5h3M1615 838.5h3M1621 838.5h3M1627 838.5h3M1633 838.5h3M1639 838.5h3M1645 838.5h3M1651 838.5h2" stroke="#c0c0c0" stroke-width="1" fill="none"/><path d="M1 899.5h3M7 899.5h3M13 899.5h3M19 899.5h3M25 899.5h3M31 899.5h3M37 899.5h3M43 899.5h3M49 899.5h3M55 899.5h3M61 899.5h3M67 899.5h3M73 899.5h3M79 899.5h3M85 899.5h3M91 899.5h3M97 899.5h3M103 899.5h3M109 899.5h3M115 899.5h3M121 899.5h3M127 899.5h3M133 899.5h3M139 899.5h3M145 899.5h3M151 899.5h3M157 899.5h3M163 899.5h3M169 899.5h3M175 899.5h3M181 899.5h3M187 899.5h3M193 899.5h3M199 899.5h3M205 899.5h3M211 899.5h3M217 899.5h3M223 899.5h3M229 899.5h3M235 899.5h3M241 899.5h3M247 899.5h3M253 899.5h3M259 899.5h3M265 899.5h3M271 899.5h3M277 899.5h3M283 899.5h3M289 899.5h3M295 899.5h3M301 899.5h3M307 899.5h3M313 899.5h3M319 899.5h3M325 899.5h3M331 899.5h3M337 899.5h3M343 899.5h3M349 899.5h3M355 899.5h3M361 899.5h3M367 899.5h3M373 899.5h3M379 899.5h3M385 899.5h3M391 899.5h3M397 899.5h3M403 899.5h3M409 899.5h3M415 899.5h3M421 899.5h3M427 899.5h3M433 899.5h3M439 899.5h3M445 899.5h3M451 899.5h3M457 899.5h3M463 899.5h3M469 899.5h3M475 899.5h3M481 899.5h3M487 899.5h3M493 899.5h3M499 899.5h3M505 899.5h3M511 899.5h3M517 899.5h3M523 899.5h3M529 899.5h3M535 899.5h3M541 899.5h3M547 899.5h3M553 899.5h3M559 899.5h3M565 899.5h3M571 899.5h3M577 899.5h3M583 899.5h3M589 899.5h3M595 899.5h3M601 899.5h3M607 899.5h3M613 899.5h3M619 899.5h3M625 899.5h3M631 899.5h3M637 899.5h3M643 899.5h3M649 899.5h3M655 899.5h3M661 899.5h3M667 899.5h3M673 899.5h3M679 899.5h3M685 899.5h3M691 899.5h3M697 899.5h3M703 899.5h3M709 899.5h3M715 899.5h3M721 899.5h3M727 899.5h3M733 899.5h3M739 899.5h3M745 899.5h3M751 899.5h3M757 899.5h3M763 899.5h3M769 899.5h3M775 899.5h3M781 899.5h3M787 899.5h3M793 899.5h3M799 899.5h3M805 899.5h3M811 899.5h3M817 899.5h3M823 899.5h3M829 899.5h3M835 899.5h3M841 899.5h3M847 899.5h3M853 899.5h3M859 899.5h3M865 899.5h3M871 899.5h3M877 899.5h3M883 899.5h3M889 899.5h3M895 899.5h3M901 899.5h3M907 899.5h3M913 899.5h3M919 899.5h3M925 899.5h3M931 899.5h3M937 899.5h3M943 899.5h3M949 899.5h3M955 899.5h3M961 899.5h3M967 899.5h3M973 899.5h3M979 899.5h3M985 899.5h3M991 899.5h3M997 899.5h3M1003 899.5h3M1009 899.5h3M1015 899.5h3M1021 899.5h3M1027 899.5h3M1033 899.5h3M1039 899.5h3M1045 899.5h3M1051 899.5h3M1057 899.5h3M1063 899.5h3M1069 899.5h3M1075 899.5h3M1081 899.5h3M1087 899.5h3M1093 899.5h3M1099 899.5h3M1105 899.5h3M1111 899.5h3M1117 899.5h3M1123 899.5h3M1129 899.5h3M1135 899.5h3M1141 899.5h3M1147 899.5h3M1153 899.5h3M1159 899.5h3M1165 899.5h3M1171 899.5h3M1177 899.5h3M1183 899.5h3M1189 899.5h3M1195 899.5h3M1201 899.5h3M1207 899.5h3M1213 899.5h3M1219 899.5h3M1225 899.5h3M1231 899.5h3M1237 899.5h3M1243 899.5h3M1249 899.5h3M1255 899.5h3M1261 899.5h3M1267 899.5h3M1273 899.5h3M1279 899.5h3M1285 899.5h3M1291 899.5h3M1297 899.5h3M1303 899.5h3M1309 899.5h3M1315 899.5h3M1321 899.5h3M1327 899.5h3M1333 899.5h3M1339 899.5h3M1345 899.5h3M1351 899.5h3M1357 899.5h3M1363 899.5h3M1369 899.5h3M1375 899.5h3M1381 899.5h3M1387 899.5h3M1393 899.5h3M1399 899.5h3M1405 899.5h3M1411 899.5h3M1417 899.5h3M1423 899.5h3M1429 899.5h3M1435 899.5h3M1441 899.5h3M1447 899.5h3M1453 899.5h3M1459 899.5h3M1465 899.5h3M1471 899.5h3M1477 899.5h3M1483 899.5h3M1489 899.5h3M1495 899.5h3M1501 899.5h3M1507 899.5h3M1513 899.5h3M1519 899.5h3M1525 899.5h3M1531 899.5h3M1537 899.5h3M1543 899.5h3M1549 899.5h3M1555 899.5h3M1561 899.5h3M1567 899.5h3M1573 899.5h3M1579 899.5h3M1585 899.5h3M1591 899.5h3M1597 899.5h3M1603 899.5h3M1609 899.5h3M1615 899.5h3M1621 899.5h3M1627 899.5h3M1633 899.5h3M1639 899.5h3M1645 899.5h3M1651 899.5h2" stroke="#c0c0c0" stroke-width="1" fill="none"/><path d="M129 833.5h2M788 833.5h2M890 833.5h2M1093 833.5h4M63 811.5h2M69 811.5h4M596 811.5h3M605 811.5h2M202 801.5h3M273 801.5h2M367 801.5h2M394 801.5h3M406 801.5h2M519 801.5h4M193 813.5h2M315 813.5h2M586 813.5h5M608 813.5h2M666 844.5h5M713 844.5h2M682 860.5h9M1204 860.5h2M1256 860.5h2M1268 860.5h3M1281 860.5h2M1356 860.5h3M33 826.5h6M772 826.5h3M247 785.5h2M427 785.5h2M455 785.5h2M103 840.5h2M634 840.5h2M879 840.5h2M39 825.5h4M770 825.5h2M698 850.5h2M723 850.5h2M833 850.5h3M858 850.5h2M471 794.5h6M536 794.5h2M557 794.5h4M1202 861.5h2M1243 861.5h2M1258 861.5h10M1359 861.5h2M1136 874.5h2M1139 874.5h2M704 847.5h2M717 847.5h2M727 847.5h2M737 847.5h4M945 847.5h6M959 847.5h12M978 859.5h5M987 859.5h2M1206 859.5h2M1271 859.5h2M1277 859.5h4M1314 859.5h2M1353 859.5h3M1373 859.5h2M135 837.5h2M641 837.5h2M755 837.5h2M901 837.5h4M1067 837.5h2M991 862.5h2M1361 862.5h10M23 829.5h5M765 829.5h2M779 829.5h2M290 797.5h5M380 797.5h2M389 797.5h2M413 797.5h2M542 797.5h2M550 797.5h2M45 822.5h2M1154 877.5h11M702 848.5h2M951 848.5h8M233 787.5h4M450 787.5h2M279 805.5h2M329 805.5h6M340 805.5h3M349 805.5h2M361 805.5h2M495 805.5h2M826 853.5h2M841 853.5h6M852 853.5h2M865 853.5h2M922 853.5h2M1385 853.5h4M1398 853.5h2M17 830.5h6M121 830.5h3M1077 830.5h2M1087 830.5h2M60 810.5h3M73 810.5h6M319 810.5h2M599 810.5h2M603 810.5h2M983 858.5h4M1208 858.5h2M1215 858.5h4M1247 858.5h2M1253 858.5h2M1273 858.5h4M1316 858.5h3M1349 858.5h4M343 804.5h2M347 804.5h2M363 804.5h2M497 804.5h12M828 852.5h3M839 852.5h2M854 852.5h2M863 852.5h2M1389 852.5h4M1396 852.5h2M10 832.5h3M114 832.5h3M127 832.5h2M783 832.5h2M790 832.5h2M1090 832.5h3M821 856.5h2M929 856.5h2M1221 856.5h2M1321 856.5h4M1337 856.5h6M205 802.5h4M215 802.5h4M275 802.5h2M397 802.5h4M404 802.5h2M513 802.5h6M831 851.5h2M836 851.5h3M856 851.5h2M860 851.5h3M1393 851.5h3M999 868.5h2M1186 868.5h3M226 790.5h2M154 818.5h5M165 818.5h4M531 791.5h2M31 827.5h2M775 827.5h2M913 827.5h2M1083 827.5h2M1123 876.5h2M1173 876.5h2M295 796.5h4M382 796.5h2M481 796.5h2M540 796.5h2M552 796.5h2M13 831.5h4M117 831.5h4M124 831.5h3M792 831.5h2M231 788.5h2M237 788.5h4M243 788.5h2M98 838.5h2M639 838.5h2M643 838.5h2M883 838.5h2M905 838.5h2M1240 863.5h2M375 798.5h5M411 798.5h2M544 798.5h2M548 798.5h2M1184 869.5h2M1189 869.5h4M169 817.5h3M816 857.5h2M819 857.5h2M1210 857.5h5M1219 857.5h2M1251 857.5h2M1297 857.5h2M1319 857.5h2M1343 857.5h6M887 835.5h2M895 835.5h2M434 780.5h9M1169 879.5h2M897 836.5h4M1069 836.5h2M384 795.5h2M416 795.5h2M466 795.5h5M477 795.5h4M538 795.5h2M554 795.5h3M811 854.5h2M824 854.5h2M847 854.5h5M924 854.5h3M1224 854.5h2M1329 854.5h4M1381 854.5h4M1400 854.5h2M995 865.5h2M1026 865.5h13M1047 865.5h4M1236 865.5h2M263 799.5h6M370 799.5h5M546 799.5h2M258 800.5h5M269 800.5h4M408 800.5h2M813 855.5h2M927 855.5h2M1325 855.5h4M1333 855.5h4M1378 855.5h3M1238 864.5h2M623 823.5h4M0 824.5h2M618 824.5h5M709 845.5h4M730 845.5h3M745 845.5h2M938 845.5h3M324 807.5h3M352 807.5h2M356 807.5h3M490 807.5h2M561 793.5h2M749 842.5h2M874 842.5h2M249 784.5h2M457 784.5h2M175 815.5h2M183 815.5h6M700 849.5h2M131 834.5h2M759 834.5h2M786 834.5h2M892 834.5h3M1072 834.5h2M1097 834.5h2M228 789.5h3M241 789.5h2M58 809.5h2M79 809.5h4M601 809.5h2M706 846.5h3M733 846.5h4M741 846.5h4M941 846.5h4M452 786.5h3M65 812.5h4M591 812.5h5M100 839.5h3M636 839.5h3M645 839.5h2M881 839.5h2M5 828.5h2M28 828.5h3M777 828.5h2M177 814.5h6M189 814.5h4M327 806.5h2M335 806.5h5M359 806.5h2M492 806.5h3M322 808.5h2M354 808.5h2M1015 875.5h2M209 803.5h6M345 803.5h2M401 803.5h3M509 803.5h4M1011 872.5h2M1132 872.5h2M1178 872.5h2M1002 870.5h5M1182 870.5h2M1193 870.5h2M1007 871.5h4M1130 871.5h2M1144 871.5h2M1180 871.5h2M172 816.5h3M1117 881.5h2M105 841.5h2M648 841.5h2M876 841.5h3M159 819.5h6M1039 866.5h8M1234 866.5h2M533 792.5h2M1127 873.5h2M1134 873.5h2M1141 873.5h2M1149 873.5h2M1165 878.5h4M671 843.5h4M1305 843.5h2M1114 883.5h2M445 783.5h2M431 782.5h2M94.5 833v1M113.5 833v1M143.5 833v1M631.5 833v2M658.5 833v1M761.5 833v1M785.5 833v1M797.5 833v1M909.5 833v2M916.5 832v3M1074.5 833v1M56.5 811v1M83.5 811v2M195.5 811v2M311.5 811v1M318.5 811v1M568.5 810v3M219.5 800v2M287.5 801v1M302.5 800v2M486.5 801v2M565.5 801v3M54.5 813v2M84.5 813v2M313.5 813v1M569.5 813v3M674.5 844v1M747.5 844v1M805.5 843v2M873.5 843v2M919.5 842v3M1063.5 844v3M1102.5 844v3M1305.5 844v1M1307.5 844v2M989.5 860v1M1055.5 860v1M1107.5 858v4M1230.5 859v2M1245.5 860v1M1372.5 860v1M3.5 826v1M89.5 825v2M148.5 826v1M578.5 826v1M627.5 825v2M769.5 826v1M914.5 826v1M1082.5 826v1M251.5 785v2M448.5 785v1M459.5 785v2M107.5 840v1M647.5 840v1M652.5 840v1M663.5 840v1M752.5 840v1M803.5 839v2M918.5 838v4M1065.5 840v2M1100.5 839v2M2.5 825v1M149.5 825v1M577.5 825v1M579.5 824v2M677.5 849v2M721.5 850v1M808.5 849v2M868.5 850v1M921.5 848v4M934.5 850v2M972.5 850v1M1061.5 849v3M1104.5 850v2M1290.5 850v1M1302.5 849v2M1310.5 850v2M1406.5 850v1M223.5 794v2M255.5 793v2M386.5 794v1M418.5 794v1M465.5 793v2M527.5 794v1M562.5 794v1M990.5 861v1M1054.5 861v1M1231.5 861v1M1371.5 861v1M1014.5 874v1M1020.5 874v1M1111.5 872v4M1126.5 874v1M1151.5 874v1M1176.5 874v1M676.5 847v2M807.5 847v2M870.5 847v2M920.5 845v3M937.5 846v2M1062.5 847v2M1103.5 847v3M1303.5 847v2M1308.5 846v2M1408.5 847v2M682.5 859v1M691.5 859v1M1056.5 859v1M1246.5 859v1M1255.5 859v1M1283.5 859v1M97.5 837v1M110.5 836v2M140.5 836v2M633.5 837v2M654.5 837v2M661.5 837v1M801.5 837v1M885.5 837v1M907.5 836v2M917.5 835v3M1099.5 836v3M1053.5 862v1M1108.5 862v3M1201.5 862v1M1232.5 862v2M1242.5 862v1M7.5 829v1M91.5 829v1M146.5 829v1M629.5 829v2M912.5 829v1M915.5 828v4M1079.5 829v1M1086.5 829v1M221.5 797v2M257.5 797v2M299.5 797v1M483.5 797v2M525.5 797v1M563.5 795v3M87.5 820v3M151.5 822v1M574.5 821v2M580.5 822v2M616.5 821v2M1018.5 877v1M1112.5 876v3M1122.5 877v1M1172.5 877v1M719.5 848v1M726.5 848v1M936.5 848v1M971.5 848v2M1309.5 848v2M245.5 787v1M252.5 787v2M425.5 787v1M460.5 787v1M199.5 805v2M284.5 804v2M306.5 805v1M489.5 805v2M566.5 804v3M679.5 853v2M696.5 852v2M810.5 853v1M932.5 853v1M974.5 853v1M1060.5 852v2M1105.5 852v3M1226.5 853v1M1288.5 852v2M1293.5 853v1M1300.5 853v2M1311.5 852v2M1404.5 852v2M8.5 830v1M92.5 830v2M145.5 830v1M764.5 830v1M781.5 830v1M794.5 830v1M911.5 830v2M57.5 810v1M82.5 810v1M196.5 810v1M310.5 809v2M681.5 857v2M692.5 857v2M818.5 858v1M977.5 857v2M1057.5 858v1M1229.5 858v1M1284.5 857v2M1298.5 858v1M1314.5 858v1M1375.5 858v1M200.5 804v1M278.5 804v1M305.5 804v1M488.5 804v1M678.5 851v2M809.5 851v2M867.5 851v2M922.5 852v1M933.5 852v1M973.5 851v2M1292.5 852v1M1301.5 851v2M93.5 832v1M144.5 831v2M630.5 831v2M762.5 832v1M796.5 832v1M910.5 832v1M1075.5 832v1M680.5 855v2M693.5 856v1M815.5 856v1M976.5 856v1M1058.5 856v2M1106.5 855v3M1228.5 856v2M1250.5 856v1M1285.5 856v1M1296.5 856v1M1299.5 855v2M1313.5 856v2M1377.5 856v1M201.5 802v2M286.5 802v1M303.5 802v1M366.5 802v1M697.5 851v1M722.5 851v1M1289.5 851v1M1291.5 851v1M1405.5 851v1M1024.5 868v1M1109.5 865v4M1196.5 868v1M253.5 789v2M422.5 790v1M462.5 789v2M530.5 790v1M50.5 818v1M86.5 818v2M571.5 818v1M583.5 818v1M613.5 818v1M225.5 791v2M254.5 791v2M421.5 791v1M463.5 791v1M529.5 791v2M4.5 827v1M90.5 827v2M147.5 827v2M628.5 827v2M768.5 827v1M1081.5 827v1M1017.5 876v1M1019.5 875v2M1153.5 876v1M222.5 796v1M256.5 795v2M388.5 796v1M415.5 796v1M526.5 795v2M9.5 831v1M763.5 831v1M782.5 831v1M795.5 831v1M1076.5 831v1M1089.5 831v1M424.5 788v1M461.5 788v1M109.5 838v1M137.5 838v1M139.5 838v1M662.5 838v2M754.5 838v1M802.5 838v1M1066.5 838v2M993.5 863v1M1052.5 863v1M1200.5 863v1M289.5 798v1M300.5 798v1M391.5 798v1M524.5 798v1M564.5 798v3M1001.5 869v1M1023.5 869v2M1110.5 869v3M1195.5 869v1M51.5 817v1M85.5 815v3M570.5 816v2M584.5 816v2M612.5 816v2M1249.5 857v1M1376.5 857v1M96.5 835v2M111.5 835v1M133.5 835v1M141.5 835v1M632.5 835v2M656.5 835v1M659.5 834v2M758.5 835v1M799.5 835v1M908.5 835v1M1071.5 835v1M1098.5 835v1M1113.5 879v4M1120.5 879v1M134.5 836v1M655.5 836v1M660.5 836v1M757.5 836v1M800.5 836v1M886.5 836v1M387.5 795v1M695.5 854v1M931.5 854v2M975.5 854v2M1059.5 854v2M1227.5 854v2M1287.5 854v1M1294.5 854v1M1312.5 854v2M1403.5 854v1M1198.5 865v2M1233.5 864v2M220.5 799v1M258.5 799v1M288.5 799v2M301.5 799v1M392.5 799v1M410.5 799v1M484.5 799v1M523.5 799v2M369.5 800v1M393.5 800v1M485.5 800v1M694.5 855v1M823.5 855v1M1223.5 855v1M1286.5 855v1M1295.5 855v1M1402.5 855v1M994.5 864v1M1051.5 864v1M1199.5 864v1M44.5 823v1M88.5 823v2M150.5 823v2M575.5 823v1M617.5 823v1M43.5 824v1M576.5 824v1M626.5 824v1M675.5 845v2M715.5 845v1M806.5 845v2M872.5 845v1M1304.5 845v2M1410.5 845v1M198.5 807v1M282.5 807v1M308.5 807v1M567.5 807v3M224.5 793v1M419.5 793v1M528.5 793v1M535.5 793v1M47.5 821v1M152.5 821v1M581.5 821v1M650.5 842v1M665.5 842v2M804.5 841v2M1064.5 842v2M1101.5 841v3M1306.5 842v1M429.5 784v1M447.5 784v1M53.5 815v1M585.5 814v2M611.5 815v1M720.5 849v1M725.5 849v1M869.5 849v1M935.5 849v1M1407.5 849v1M998.5 867v1M1025.5 866v2M1197.5 867v1M1119.5 880v1M95.5 834v1M112.5 834v1M142.5 834v1M657.5 834v1M798.5 834v1M889.5 834v1M423.5 789v1M197.5 808v2M321.5 809v1M716.5 846v1M729.5 846v1M871.5 846v1M1409.5 846v1M246.5 786v1M426.5 786v1M449.5 786v1M55.5 812v1M312.5 812v1M317.5 812v1M607.5 812v1M108.5 839v1M138.5 839v1M634.5 839v1M653.5 839v1M753.5 839v1M767.5 828v1M913.5 828v1M1080.5 828v1M1085.5 828v1M314.5 814v1M610.5 814v1M281.5 806v1M283.5 806v1M307.5 806v1M351.5 806v1M309.5 808v1M1125.5 875v1M1138.5 875v1M1152.5 875v1M1175.5 875v1M277.5 803v1M285.5 803v1M304.5 803v1M365.5 803v1M487.5 803v1M1021.5 872v2M1129.5 872v1M1143.5 872v1M1148.5 872v1M1146.5 870v1M1022.5 871v1M1147.5 871v1M52.5 816v1M651.5 841v1M664.5 841v1M751.5 841v1M49.5 819v1M153.5 819v2M572.5 819v1M582.5 819v2M614.5 819v1M997.5 866v1M420.5 792v1M464.5 792v1M1013.5 873v1M1177.5 873v1M1121.5 878v1M1171.5 878v1M748.5 843v1M433.5 781v1M443.5 781v1M250.5 783v1M430.5 783v1M48.5 820v1M573.5 820v1M615.5 820v1M1116.5 882v1M444.5 782v1M1114.5 884v1" stroke="#1e90ff" stroke-width="1" fill="none"/></g>
<g shape-rendering="crispEdges"><rect x="0" y="24" width="1654" height="1" fill="#000"/><rect x="1653" y="24" width="1" height="902" fill="#000"/><rect x="0" y="577" width="1654" height="1" fill="#000"/><rect x="0" y="579" width="1654" height="1" fill="#000"/><rect x="0" y="749" width="1654" height="1" fill="#000"/><rect x="0" y="751" width="1654" height="1" fill="#000"/><rect x="0" y="925" width="1656" height="1" fill="#000"/><rect x="1653" y="578" width="1" height="1" fill="#fff"/><rect x="1653" y="750" width="1" height="1" fill="#fff"/><rect x="1654" y="46" width="2" height="1" fill="#000"/><rect x="1654" y="79" width="2" height="1" fill="#000"/><rect x="1654" y="112" width="2" height="1" fill="#000"/><rect x="1654" y="145" width="2" height="1" fill="#000"/><rect x="1654" y="178" width="2" height="1" fill="#000"/><rect x="1654" y="211" width="2" height="1" fill="#000"/><rect x="1654" y="244" width="2" height="1" fill="#000"/><rect x="1654" y="277" width="2" height="1" fill="#000"/><rect x="1654" y="310" width="2" height="1" fill="#000"/><rect x="1654" y="343" width="2" height="1" fill="#000"/><rect x="1654" y="376" width="2" height="1" fill="#000"/><rect x="1654" y="409" width="2" height="1" fill="#000"/><rect x="1654" y="442" width="2" height="1" fill="#000"/><rect x="1654" y="475" width="2" height="1" fill="#000"/><rect x="1654" y="508" width="2" height="1" fill="#000"/><rect x="1654" y="541" width="2" height="1" fill="#000"/><rect x="1654" y="574" width="2" height="1" fill="#000"/><rect x="1654" y="581" width="1" height="1" fill="#000"/><rect x="1654" y="672" width="1" height="1" fill="#000"/><rect x="1654" y="748" width="1" height="1" fill="#000"/><rect x="1654" y="753" width="1" height="1" fill="#000"/><rect x="1654" y="924" width="1" height="1" fill="#000"/></g><text x="1659.3" y="50" font-size="9.6" fill="#000" text-anchor="start" font-weight="normal" textLength="32.3" lengthAdjust="spacingAndGlyphs" >158.295</text><text x="1659.3" y="83" font-size="9.6" fill="#000" text-anchor="start" font-weight="normal" textLength="32.3" lengthAdjust="spacingAndGlyphs" >157.770</text><text x="1659.3" y="116" font-size="9.6" fill="#000" text-anchor="start" font-weight="normal" textLength="32.3" lengthAdjust="spacingAndGlyphs" >157.260</text><text x="1659.3" y="149" font-size="9.6" fill="#000" text-anchor="start" font-weight="normal" textLength="32.3" lengthAdjust="spacingAndGlyphs" >156.750</text><text x="1659.3" y="182" font-size="9.6" fill="#000" text-anchor="start" font-weight="normal" textLength="32.3" lengthAdjust="spacingAndGlyphs" >156.240</text><text x="1659.3" y="215" font-size="9.6" fill="#000" text-anchor="start" font-weight="normal" textLength="32.3" lengthAdjust="spacingAndGlyphs" >155.715</text><text x="1659.3" y="248" font-size="9.6" fill="#000" text-anchor="start" font-weight="normal" textLength="32.3" lengthAdjust="spacingAndGlyphs" >155.205</text><text x="1659.3" y="281" font-size="9.6" fill="#000" text-anchor="start" font-weight="normal" textLength="32.3" lengthAdjust="spacingAndGlyphs" >154.695</text><text x="1659.3" y="314" font-size="9.6" fill="#000" text-anchor="start" font-weight="normal" textLength="32.3" lengthAdjust="spacingAndGlyphs" >154.185</text><text x="1659.3" y="347" font-size="9.6" fill="#000" text-anchor="start" font-weight="normal" textLength="32.3" lengthAdjust="spacingAndGlyphs" >153.660</text><text x="1659.3" y="380" font-size="9.6" fill="#000" text-anchor="start" font-weight="normal" textLength="32.3" lengthAdjust="spacingAndGlyphs" >153.150</text><text x="1659.3" y="413" font-size="9.6" fill="#000" text-anchor="start" font-weight="normal" textLength="32.3" lengthAdjust="spacingAndGlyphs" >152.640</text><text x="1659.3" y="446" font-size="9.6" fill="#000" text-anchor="start" font-weight="normal" textLength="32.3" lengthAdjust="spacingAndGlyphs" >152.130</text><text x="1659.3" y="479" font-size="9.6" fill="#000" text-anchor="start" font-weight="normal" textLength="32.3" lengthAdjust="spacingAndGlyphs" >151.605</text><text x="1659.3" y="512" font-size="9.6" fill="#000" text-anchor="start" font-weight="normal" textLength="32.3" lengthAdjust="spacingAndGlyphs" >151.095</text><text x="1659.3" y="545" font-size="9.6" fill="#000" text-anchor="start" font-weight="normal" textLength="32.3" lengthAdjust="spacingAndGlyphs" >150.585</text><text x="1659.3" y="578" font-size="9.6" fill="#000" text-anchor="start" font-weight="normal" textLength="32.3" lengthAdjust="spacingAndGlyphs" >150.075</text><text x="1657.7" y="590" font-size="9.6" fill="#000" text-anchor="start" font-weight="normal" textLength="26.8" lengthAdjust="spacingAndGlyphs" >1.0422</text><text x="1657" y="676" font-size="9.6" fill="#000" text-anchor="start" font-weight="normal" textLength="18" lengthAdjust="spacingAndGlyphs" >0.00</text><text x="1657" y="746" font-size="9.6" fill="#000" text-anchor="start" font-weight="normal" textLength="30.7" lengthAdjust="spacingAndGlyphs" >-0.8611</text><text x="1657.4" y="762" font-size="9.6" fill="#000" text-anchor="start" font-weight="normal" textLength="14.3" lengthAdjust="spacingAndGlyphs" >100</text><text x="1656.3" y="791" font-size="9.6" fill="#000" text-anchor="start" font-weight="normal" textLength="9.6" lengthAdjust="spacingAndGlyphs" >80</text><text x="1656.3" y="842" font-size="9.6" fill="#000" text-anchor="start" font-weight="normal" textLength="9.6" lengthAdjust="spacingAndGlyphs" >50</text><text x="1656.4" y="903.5" font-size="9.6" fill="#000" text-anchor="start" font-weight="normal" textLength="9.9" lengthAdjust="spacingAndGlyphs" >15</text><text x="1657.2" y="922" font-size="9.6" fill="#000" text-anchor="start" font-weight="normal" textLength="4.9" lengthAdjust="spacingAndGlyphs" >0</text><rect x="1655" y="390" width="41" height="11" fill="#000" shape-rendering="crispEdges"/><text x="1659.5" y="399" font-size="9.6" fill="#fff" text-anchor="start" font-weight="normal" textLength="32.2" lengthAdjust="spacingAndGlyphs" >152.848</text><rect x="1655" y="330" width="41" height="11" fill="#ff0000" shape-rendering="crispEdges"/><text x="1659.5" y="339" font-size="9.6" fill="#fff" text-anchor="start" font-weight="normal" textLength="32.2" lengthAdjust="spacingAndGlyphs" >153.772</text><rect x="1655" y="361" width="41" height="11" fill="#ff0000" shape-rendering="crispEdges"/><text x="1659.5" y="370" font-size="9.6" fill="#fff" text-anchor="start" font-weight="normal" textLength="32.2" lengthAdjust="spacingAndGlyphs" >153.299</text><rect x="1655" y="386" width="41" height="11" fill="#32cd32" shape-rendering="crispEdges"/><text x="1659.5" y="395" font-size="9.6" fill="#fff" text-anchor="start" font-weight="normal" textLength="32.2" lengthAdjust="spacingAndGlyphs" >152.897</text><rect x="1655" y="420" width="41" height="11" fill="#0000ff" shape-rendering="crispEdges"/><text x="1659.5" y="429" font-size="9.6" fill="#fff" text-anchor="start" font-weight="normal" textLength="32.2" lengthAdjust="spacingAndGlyphs" >152.377</text><rect x="1655" y="445" width="41" height="11" fill="#0000ff" shape-rendering="crispEdges"/><text x="1659.5" y="454" font-size="9.6" fill="#fff" text-anchor="start" font-weight="normal" textLength="32.2" lengthAdjust="spacingAndGlyphs" >151.988</text><rect x="1648.5" y="424.5" width="4" height="4" fill="#fff" stroke="#0000ff" stroke-width="1" shape-rendering="crispEdges"/><rect x="1648.5" y="449.5" width="4" height="4" fill="#fff" stroke="#0000ff" stroke-width="1" shape-rendering="crispEdges"/>
<rect x="-6" y="926" width="1" height="3" fill="#000" shape-rendering="crispEdges"/><text x="-7" y="938" font-size="10" fill="#000" text-anchor="start" font-weight="normal" textLength="45.7" lengthAdjust="spacingAndGlyphs" >4 Oct 2021</text><rect x="58" y="926" width="1" height="3" fill="#000" shape-rendering="crispEdges"/><text x="57" y="938" font-size="10" fill="#000" text-anchor="start" font-weight="normal" textLength="48.3" lengthAdjust="spacingAndGlyphs" >5 Oct 12:00</text><rect x="122" y="926" width="1" height="3" fill="#000" shape-rendering="crispEdges"/><text x="121" y="938" font-size="10" fill="#000" text-anchor="start" font-weight="normal" textLength="48.3" lengthAdjust="spacingAndGlyphs" >6 Oct 20:00</text><rect x="186" y="926" width="1" height="3" fill="#000" shape-rendering="crispEdges"/><text x="185" y="938" font-size="10" fill="#000" text-anchor="start" font-weight="normal" textLength="48.3" lengthAdjust="spacingAndGlyphs" >8 Oct 04:00</text><rect x="250" y="926" width="1" height="3" fill="#000" shape-rendering="crispEdges"/><text x="249" y="938" font-size="10" fill="#000" text-anchor="start" font-weight="normal" textLength="52.8" lengthAdjust="spacingAndGlyphs" >11 Oct 12:00</text><rect x="314" y="926" width="1" height="3" fill="#000" shape-rendering="crispEdges"/><text x="313" y="938" font-size="10" fill="#000" text-anchor="start" font-weight="normal" textLength="53.5" lengthAdjust="spacingAndGlyphs" >12 Oct 20:00</text><rect x="378" y="926" width="1" height="3" fill="#000" shape-rendering="crispEdges"/><text x="377" y="938" font-size="10" fill="#000" text-anchor="start" font-weight="normal" textLength="53.5" lengthAdjust="spacingAndGlyphs" >14 Oct 04:00</text><rect x="442" y="926" width="1" height="3" fill="#000" shape-rendering="crispEdges"/><text x="441" y="938" font-size="10" fill="#000" text-anchor="start" font-weight="normal" textLength="53.5" lengthAdjust="spacingAndGlyphs" >15 Oct 12:00</text><rect x="506" y="926" width="1" height="3" fill="#000" shape-rendering="crispEdges"/><text x="505" y="938" font-size="10" fill="#000" text-anchor="start" font-weight="normal" textLength="53.5" lengthAdjust="spacingAndGlyphs" >18 Oct 20:00</text><rect x="570" y="926" width="1" height="3" fill="#000" shape-rendering="crispEdges"/><text x="569" y="938" font-size="10" fill="#000" text-anchor="start" font-weight="normal" textLength="53.5" lengthAdjust="spacingAndGlyphs" >20 Oct 04:00</text><rect x="634" y="926" width="1" height="3" fill="#000" shape-rendering="crispEdges"/><text x="633" y="938" font-size="10" fill="#000" text-anchor="start" font-weight="normal" textLength="53.5" lengthAdjust="spacingAndGlyphs" >21 Oct 12:00</text><rect x="698" y="926" width="1" height="3" fill="#000" shape-rendering="crispEdges"/><text x="697" y="938" font-size="10" fill="#000" text-anchor="start" font-weight="normal" textLength="53.5" lengthAdjust="spacingAndGlyphs" >24 Oct 23:00</text><rect x="762" y="926" width="1" height="3" fill="#000" shape-rendering="crispEdges"/><text x="761" y="938" font-size="10" fill="#000" text-anchor="start" font-weight="normal" textLength="53.5" lengthAdjust="spacingAndGlyphs" >26 Oct 04:00</text><rect x="826" y="926" width="1" height="3" fill="#000" shape-rendering="crispEdges"/><text x="825" y="938" font-size="10" fill="#000" text-anchor="start" font-weight="normal" textLength="53.5" lengthAdjust="spacingAndGlyphs" >27 Oct 12:00</text><rect x="890" y="926" width="1" height="3" fill="#000" shape-rendering="crispEdges"/><text x="889" y="938" font-size="10" fill="#000" text-anchor="start" font-weight="normal" textLength="53.5" lengthAdjust="spacingAndGlyphs" >28 Oct 20:00</text><rect x="954" y="926" width="1" height="3" fill="#000" shape-rendering="crispEdges"/><text x="953" y="938" font-size="10" fill="#000" text-anchor="start" font-weight="normal" textLength="50.4" lengthAdjust="spacingAndGlyphs" >1 Nov 04:00</text><rect x="1018" y="926" width="1" height="3" fill="#000" shape-rendering="crispEdges"/><text x="1017" y="938" font-size="10" fill="#000" text-anchor="start" font-weight="normal" textLength="50.4" lengthAdjust="spacingAndGlyphs" >2 Nov 12:00</text><rect x="1082" y="926" width="1" height="3" fill="#000" shape-rendering="crispEdges"/><text x="1081" y="938" font-size="10" fill="#000" text-anchor="start" font-weight="normal" textLength="50.4" lengthAdjust="spacingAndGlyphs" >3 Nov 20:00</text><rect x="1146" y="926" width="1" height="3" fill="#000" shape-rendering="crispEdges"/><text x="1145" y="938" font-size="10" fill="#000" text-anchor="start" font-weight="normal" textLength="50.4" lengthAdjust="spacingAndGlyphs" >5 Nov 04:00</text><rect x="1210" y="926" width="1" height="3" fill="#000" shape-rendering="crispEdges"/><text x="1209" y="938" font-size="10" fill="#000" text-anchor="start" font-weight="normal" textLength="50.4" lengthAdjust="spacingAndGlyphs" >8 Nov 12:00</text><rect x="1274" y="926" width="1" height="3" fill="#000" shape-rendering="crispEdges"/><text x="1273" y="938" font-size="10" fill="#000" text-anchor="start" font-weight="normal" textLength="50.4" lengthAdjust="spacingAndGlyphs" >9 Nov 20:00</text><rect x="1338" y="926" width="1" height="3" fill="#000" shape-rendering="crispEdges"/><text x="1337" y="938" font-size="10" fill="#000" text-anchor="start" font-weight="normal" textLength="54.9" lengthAdjust="spacingAndGlyphs" >11 Nov 04:00</text><rect x="1402" y="926" width="1" height="3" fill="#000" shape-rendering="crispEdges"/><text x="1401" y="938" font-size="10" fill="#000" text-anchor="start" font-weight="normal" textLength="55.6" lengthAdjust="spacingAndGlyphs" >12 Nov 12:00</text>
<rect x="1072" y="178" width="11" height="1" fill="#ff0000"/><rect x="1011.5" y="169.5" width="61" height="18" fill="#fff" stroke="#ff0000" stroke-width="1" shape-rendering="crispEdges"/><text x="1042.0" y="184.62" font-size="17" fill="#ff0000" text-anchor="middle" font-weight="normal" textLength="56.5" lengthAdjust="spacingAndGlyphs" >156.243</text><rect x="1034" y="392" width="12" height="1" fill="#ff0000"/><rect x="1045.5" y="380.5" width="73" height="23" fill="#fff" stroke="#ff0000" stroke-width="1" shape-rendering="crispEdges"/><text x="1082.0" y="399.74" font-size="21.5" fill="#ff0000" text-anchor="middle" font-weight="normal" textLength="69" lengthAdjust="spacingAndGlyphs" >152.897</text><rect x="1296" y="341" width="10" height="1" fill="#ff0000"/><rect x="1235.5" y="333.5" width="61" height="17" fill="#fff" stroke="#ff0000" stroke-width="1" shape-rendering="crispEdges"/><text x="1266.0" y="348.12" font-size="17" fill="#ff0000" text-anchor="middle" font-weight="normal" textLength="56" lengthAdjust="spacingAndGlyphs" >153.702</text><rect x="1360" y="429" width="12" height="1" fill="#ff0000"/><rect x="1299.5" y="420.5" width="61" height="18" fill="#fff" stroke="#ff0000" stroke-width="1" shape-rendering="crispEdges"/><text x="1330.0" y="435.62" font-size="17" fill="#ff0000" text-anchor="middle" font-weight="normal" textLength="56" lengthAdjust="spacingAndGlyphs" >152.330</text><line x1="1302.0" y1="351.5" x2="1354.2" y2="423.7" stroke="#ff0000" stroke-width="3.7"/><polygon points="1359.5,431.0 1349.2,424.9 1356.9,419.3" fill="#ff0000"/><line x1="1359.5" y1="430.5" x2="1408.9" y2="394.2" stroke="#ff0000" stroke-width="3.7"/><polygon points="1417.0,388.3 1410.1,399.2 1404.5,391.6" fill="#ff0000"/><line x1="1416.0" y1="389.0" x2="1431.5" y2="400.1" stroke="#ff0000" stroke-width="3.7"/><polygon points="1438.0,404.7 1427.1,402.8 1432.6,395.0" fill="#ff0000"/><line x1="1278.0" y1="717.5" x2="1406.6" y2="695.8" stroke="#ff0000" stroke-width="3.1"/><polygon points="1417.0,694.0 1405.5,701.0 1403.8,691.2" fill="#ff0000"/><line x1="1357.0" y1="872.5" x2="1406.3" y2="852.4" stroke="#ff0000" stroke-width="3.1"/><polygon points="1416.0,848.4 1406.3,857.8 1402.5,848.5" fill="#ff0000"/>
<text x="9" y="36" font-size="10" fill="#000" text-anchor="start" font-weight="normal" textLength="200" lengthAdjust="spacingAndGlyphs" >GBPJPY-,H4&#160; 152.596 152.919 152.589 152.848</text>
<polygon points="0,31 0,35.5 4.5,35.5" fill="#000"/>
<text x="-1.5" y="592" font-size="10" fill="#000" text-anchor="start" font-weight="normal" textLength="133.5" lengthAdjust="spacingAndGlyphs" >MACD(12,26,9) -0.2672 -0.3402</text>
<text x="-1.5" y="764" font-size="10" fill="#000" text-anchor="start" font-weight="normal" textLength="67.5" lengthAdjust="spacingAndGlyphs" >RSI(14) 46.4527</text>
<rect x="1415" y="25" width="9" height="1" fill="#c0c0c0" shape-rendering="crispEdges"/><rect x="1416" y="26" width="7" height="1" fill="#c0c0c0" shape-rendering="crispEdges"/><rect x="1417" y="27" width="5" height="1" fill="#c0c0c0" shape-rendering="crispEdges"/><rect x="1418" y="28" width="3" height="1" fill="#c0c0c0" shape-rendering="crispEdges"/><rect x="1419" y="29" width="1" height="1" fill="#c0c0c0" shape-rendering="crispEdges"/>
<rect x="1699" y="22" width="1" height="919" fill="#e0e0e0" shape-rendering="crispEdges"/><rect x="1698" y="22" width="1" height="919" fill="#f6f6f6" shape-rendering="crispEdges"/>
</g>
<g id="panel"><defs>
<linearGradient id="gb1" x1="0" y1="0" x2="0" y2="1"><stop offset="0" stop-color="#5252f8"/><stop offset="1" stop-color="#3232de"/></linearGradient>
<linearGradient id="gb2" x1="0" y1="0" x2="0" y2="1"><stop offset="0" stop-color="#2828dc"/><stop offset="1" stop-color="#0000a0"/></linearGradient>
<linearGradient id="gbtn" x1="0" y1="0" x2="0" y2="1"><stop offset="0" stop-color="#f0f0f0"/><stop offset="0.5" stop-color="#dedede"/><stop offset="1" stop-color="#cecece"/></linearGradient>
</defs><g shape-rendering="crispEdges"><rect x="0" y="44" width="49" height="24" fill="url(#gb1)"/><rect x="164" y="44" width="52" height="24" fill="url(#gb1)"/><rect x="0" y="68" width="106" height="33" fill="url(#gb2)"/><rect x="108" y="68" width="108" height="33" fill="url(#gb2)"/><rect x="0" y="44" width="49" height="1" fill="#1a1ac8"/><rect x="48" y="44" width="1" height="24" fill="#1414b8"/><rect x="164" y="44" width="52" height="1" fill="#1a1ac8"/><rect x="164" y="44" width="1" height="24" fill="#1414b8"/><rect x="215" y="44" width="1" height="57" fill="#1010a8"/><rect x="1" y="67" width="44" height="1" fill="#1c1cc4"/><rect x="1" y="68" width="44" height="1" fill="#7474f2"/><rect x="168" y="67" width="44" height="1" fill="#1c1cc4"/><rect x="168" y="68" width="44" height="1" fill="#7474f2"/><rect x="49" y="44" width="115" height="24" fill="#fff"/><rect x="51.5" y="44.5" width="110" height="21" fill="#fff" stroke="#ababab"/><rect x="52" y="45" width="20" height="20" fill="url(#gbtn)"/><rect x="72" y="45" width="1" height="20" fill="#b0b0b0"/><rect x="141" y="45" width="20" height="20" fill="url(#gbtn)"/><rect x="140" y="45" width="1" height="20" fill="#b0b0b0"/></g><polygon points="58.7,53 64.7,53 61.7,56.4" fill="#4862c8"/><polygon points="147.7,56.4 153.7,56.4 150.7,53" fill="#4862c8"/><text x="9.5" y="60" font-size="12" fill="#e6e6ff" text-anchor="start" font-weight="normal" textLength="25.5" lengthAdjust="spacingAndGlyphs" >SELL</text><text x="177" y="60" font-size="12" fill="#e6e6ff" text-anchor="start" font-weight="normal" textLength="23" lengthAdjust="spacingAndGlyphs" >BUY</text><text x="113.7" y="59" font-size="12" fill="#222" text-anchor="start" font-weight="normal" textLength="22.7" lengthAdjust="spacingAndGlyphs" >1.00</text><text x="45.6" y="96.3" font-size="33" fill="#fff" text-anchor="start" font-weight="normal" textLength="33.4" lengthAdjust="spacingAndGlyphs" >84</text><text x="20.4" y="96" font-size="12.5" fill="#fff" text-anchor="start" font-weight="bold" textLength="20.5" lengthAdjust="spacingAndGlyphs" >152</text><text x="84.4" y="79.6" font-size="11.5" fill="#fff" text-anchor="start" font-weight="bold" textLength="6.5" lengthAdjust="spacingAndGlyphs" >8</text><text x="156.0" y="96.3" font-size="33" fill="#fff" text-anchor="start" font-weight="normal" textLength="33.4" lengthAdjust="spacingAndGlyphs" >88</text><text x="130.5" y="96" font-size="12.5" fill="#fff" text-anchor="start" font-weight="bold" textLength="20.5" lengthAdjust="spacingAndGlyphs" >152</text><text x="195.4" y="79.6" font-size="11.5" fill="#fff" text-anchor="start" font-weight="bold" textLength="6.3" lengthAdjust="spacingAndGlyphs" >5</text></g>
<g id="toolbar"><g shape-rendering="crispEdges"><rect x="0" y="0" width="1700" height="19" fill="#f0f0f0"/><rect x="0" y="19" width="1700" height="1" fill="#f9f9f9"/><rect x="0" y="20" width="1700" height="1" fill="#a0a0a0"/><rect x="0" y="21" width="1700" height="1" fill="#696969"/></g><g shape-rendering="crispEdges"><rect x="290" y="0" width="24" height="18" fill="#f8f8f8"/><rect x="441" y="0" width="25" height="18" fill="#f8f8f8"/><rect x="469" y="0" width="25" height="18" fill="#f8f8f8"/><rect x="629" y="0" width="25" height="18" fill="#f8f8f8"/><rect x="1075" y="0" width="25" height="18" fill="#f8f8f8"/><rect x="250" y="0" width="1" height="18" fill="#a0a0a0"/><rect x="251" y="0" width="1" height="18" fill="#ffffff"/><rect x="618" y="0" width="1" height="18" fill="#a0a0a0"/><rect x="619" y="0" width="1" height="18" fill="#ffffff"/><rect x="924" y="0" width="1" height="18" fill="#a0a0a0"/><rect x="925" y="0" width="1" height="18" fill="#ffffff"/><rect x="14" y="0" width="1" height="18" fill="#a0a0a0"/><rect x="288" y="0" width="1" height="18" fill="#a0a0a0"/><rect x="345" y="0" width="1" height="18" fill="#a0a0a0"/><rect x="435" y="0" width="1" height="18" fill="#a0a0a0"/><rect x="440" y="0" width="1" height="18" fill="#a0a0a0"/><rect x="468" y="0" width="1" height="18" fill="#a0a0a0"/><rect x="497" y="0" width="1" height="18" fill="#a0a0a0"/><rect x="628" y="0" width="1" height="18" fill="#a0a0a0"/><rect x="685" y="0" width="1" height="18" fill="#a0a0a0"/><rect x="1074" y="0" width="1" height="18" fill="#a0a0a0"/><rect x="1185" y="0" width="1" height="18" fill="#a0a0a0"/><rect x="254" y="0" width="3" height="1" fill="#a8a8a8"/><rect x="254" y="2" width="3" height="1" fill="#a8a8a8"/><rect x="254" y="4" width="3" height="1" fill="#a8a8a8"/><rect x="254" y="6" width="3" height="1" fill="#a8a8a8"/><rect x="254" y="8" width="3" height="1" fill="#a8a8a8"/><rect x="254" y="10" width="3" height="1" fill="#a8a8a8"/><rect x="254" y="12" width="3" height="1" fill="#a8a8a8"/><rect x="254" y="14" width="3" height="1" fill="#a8a8a8"/><rect x="254" y="16" width="3" height="1" fill="#a8a8a8"/><rect x="622" y="0" width="3" height="1" fill="#a8a8a8"/><rect x="622" y="2" width="3" height="1" fill="#a8a8a8"/><rect x="622" y="4" width="3" height="1" fill="#a8a8a8"/><rect x="622" y="6" width="3" height="1" fill="#a8a8a8"/><rect x="622" y="8" width="3" height="1" fill="#a8a8a8"/><rect x="622" y="10" width="3" height="1" fill="#a8a8a8"/><rect x="622" y="12" width="3" height="1" fill="#a8a8a8"/><rect x="622" y="14" width="3" height="1" fill="#a8a8a8"/><rect x="622" y="16" width="3" height="1" fill="#a8a8a8"/><rect x="928" y="0" width="3" height="1" fill="#a8a8a8"/><rect x="928" y="2" width="3" height="1" fill="#a8a8a8"/><rect x="928" y="4" width="3" height="1" fill="#a8a8a8"/><rect x="928" y="6" width="3" height="1" fill="#a8a8a8"/><rect x="928" y="8" width="3" height="1" fill="#a8a8a8"/><rect x="928" y="10" width="3" height="1" fill="#a8a8a8"/><rect x="928" y="12" width="3" height="1" fill="#a8a8a8"/><rect x="928" y="14" width="3" height="1" fill="#a8a8a8"/><rect x="928" y="16" width="3" height="1" fill="#a8a8a8"/></g><circle cx="-1.8" cy="7.5" r="4.3" fill="#eaf4fc" stroke="#9cc0e4" stroke-width="1.1"/><line x1="2" y1="11.5" x2="6" y2="16" stroke="#c8a028" stroke-width="2.6"/><path d="M25.0,0.5 h7.5 l3.5,3.5 v9.5 h-11 z" fill="#fff" stroke="#8a8a8a" stroke-width="1"/><path d="M32.5,0.5 v3.5 h3.5" fill="#e8e8e8" stroke="#8a8a8a" stroke-width="0.8"/><rect x="26.5" y="2" width="3" height="1.6" fill="#777"/><rect x="26.5" y="6" width="6" height="1" fill="#999"/><rect x="26.5" y="8.3" width="5" height="1" fill="#999"/><rect x="26.5" y="10.5" width="3" height="1" fill="#999"/><path d="M32.2,6 h4 v3.7 h3.8 v4 h-3.8 v3.8 h-4 v-3.8 h-3.7 v-4 h3.7 z" fill="#22c322" stroke="#0a8a0a" stroke-width="0.9"/><path d="M33.2,7 h2 v3.7 h3.8 v1.2 h-9.5 v-1.2 h3.7 z" fill="#6fe86f" opacity="0.8"/><text x="42.9" y="10.7" font-size="12" fill="#000" text-anchor="start" style="font-family:'Liberation Sans','Noto Sans CJK SC',sans-serif">新订单</text><defs><linearGradient id="gold" x1="0" y1="0" x2="1" y2="1"><stop offset="0" stop-color="#f8d840"/><stop offset="0.45" stop-color="#ffe868"/><stop offset="1" stop-color="#d8a010"/></linearGradient></defs><path d="M92,11.4 L99,16 L106.8,8.2 L106.3,7" fill="#e8d8a0" stroke="#a87018" stroke-width="0.9"/><path d="M96.3,1 L106.3,7 L99,14.6 L91.2,9.8 Q95,6.2 96.3,1 z" fill="url(#gold)" stroke="#a86c10" stroke-width="1"/><defs><linearGradient id="cloud" x1="0" y1="0" x2="0" y2="1"><stop offset="0" stop-color="#ffffff"/><stop offset="1" stop-color="#c8d4ec"/></linearGradient></defs><path d="M121.5,0.5 L124.8,-0.8 L132.2,-0.8 L132.2,9.5 L121.5,9.5 z" fill="#2a98f4" stroke="#1462c8" stroke-width="0.7"/><path d="M121.5,0.5 L124.6,1.6 L124.6,9.5 L121.5,9.5 z" fill="#0c70e0"/><path d="M121.5,0.5 L124.8,-0.8 L132.2,-0.8 L124.6,1.6 z" fill="#5ab4ff"/><rect x="126" y="3.6" width="5.2" height="3" fill="#e4f2ff"/><rect x="127" y="4.6" width="3.2" height="1" fill="#3a88d8"/><path d="M122.2,15.8 h10 a3,3 0 0 0 0.4,-5.9 a3.2,3.2 0 0 0 -5.2,-1.2 a2.8,2.8 0 0 0 -4.6,1.6 a2.8,2.8 0 0 0 -0.6,5.5 z" fill="url(#cloud)" stroke="#5a74b0" stroke-width="1"/><g fill="none" stroke-linecap="round"><path d="M155,0.3 A7.7,7.7 0 0 0 152,15" stroke="#6e9ce0" stroke-width="1.2" opacity="0.8"/><path d="M154.5,2.8 A5.2,5.2 0 0 0 152.5,12.5" stroke="#4a80dc" stroke-width="1.2" opacity="0.85"/><path d="M155,0.3 A7.7,7.7 0 0 1 157,15.4" stroke="#4aa860" stroke-width="1.4" opacity="0.85"/><path d="M155.5,2.8 A5.2,5.2 0 0 1 157.5,12.6" stroke="#6cc080" stroke-width="1.2" opacity="0.8"/></g><path d="M155.6,8 L155.6,16 A8,8 0 0 0 163,7 z" fill="#a8dcb0" opacity="0.45"/><circle cx="155" cy="7.6" r="2" fill="#2458d0"/><rect x="155" y="8.3" width="1.3" height="7.6" fill="#18a828"/><defs><linearGradient id="face" x1="0" y1="0" x2="1" y2="1"><stop offset="0" stop-color="#fff080"/><stop offset="1" stop-color="#e8b820"/></linearGradient></defs><path d="M175.3,7.2 L190,7.2 L185,15.6 L181.8,15.9 z" fill="url(#face)" stroke="#d4a828" stroke-width="0.8"/><ellipse cx="182.2" cy="5.4" rx="8" ry="2.9" fill="#4c9cd4" stroke="#3480bc" stroke-width="0.8"/><path d="M178.3,5 C178.6,1.5 180.5,-0.5 181.2,-1 L183.6,-1 C184.4,-0.3 186,1.8 186.3,5 C184,6.3 180.5,6.3 178.3,5 z" fill="#78c4f0"/><path d="M186.5,3.6 Q189,4.4 189.2,5.6" stroke="#d8f0ff" stroke-width="0.9" fill="none"/><circle cx="186.6" cy="11.6" r="4.2" fill="#e02810" stroke="#b81808" stroke-width="0.6"/><rect x="185.2" y="10.2" width="2.9" height="2.9" fill="#fff"/><text x="194.8" y="10.7" font-size="12" fill="#000" text-anchor="start" style="font-family:'Liberation Sans','Noto Sans CJK SC',sans-serif">自动交易</text><g stroke="#555" stroke-width="1.2" fill="#555"><line x1="268.5" y1="3" x2="268.5" y2="16"/><line x1="266" y1="13.5" x2="279" y2="13.5"/><polygon points="268.5,1.5 266.8,4.2 270.2,4.2" stroke="none"/><polygon points="280.5,13.5 277.8,11.8 277.8,15.2" stroke="none"/></g><path d="M274.5,3.5 V11 M274.5,4.3 H277.2 M272,10.6 H274.5" stroke="#0a8a0a" stroke-width="1.3" fill="none"/><g stroke="#555" stroke-width="1.2" fill="#555"><line x1="296.5" y1="3" x2="296.5" y2="16"/><line x1="294" y1="13.5" x2="307" y2="13.5"/><polygon points="296.5,1.5 294.8,4.2 298.2,4.2" stroke="none"/><polygon points="308.5,13.5 305.8,11.8 305.8,15.2" stroke="none"/></g><rect x="302" y="0" width="1.2" height="11.8" fill="#0a8a0a"/><rect x="300.3" y="2.5" width="4.6" height="7" fill="#38d838" stroke="#0a8a0a" stroke-width="1"/><g stroke="#555" stroke-width="1.2" fill="#555"><line x1="324.5" y1="3" x2="324.5" y2="16"/><line x1="322" y1="13.5" x2="335" y2="13.5"/><polygon points="324.5,1.5 322.8,4.2 326.2,4.2" stroke="none"/><polygon points="336.5,13.5 333.8,11.8 333.8,15.2" stroke="none"/></g><path d="M323,10.8 C326,8 327.5,5 329.5,5.3 C331.5,5.6 333,8.5 335.3,9" stroke="#1a9a2a" stroke-width="1.2" fill="none"/><line x1="363.8" y1="9.8" x2="368.6" y2="14.6" stroke="#d4ae22" stroke-width="2.8"/><line x1="364.8" y1="9" x2="369.4" y2="13.6" stroke="#f8e470" stroke-width="0.8"/><circle cx="360" cy="6" r="5.3" fill="#d8f0ff" stroke="#2a70c0" stroke-width="1.4"/><rect x="357" y="5.3" width="6" height="1.5" fill="#3a82b8"/><rect x="359.25" y="3" width="1.5" height="6" fill="#3a82b8"/><line x1="391.8" y1="9.8" x2="396.6" y2="14.6" stroke="#d4ae22" stroke-width="2.8"/><line x1="392.8" y1="9" x2="397.4" y2="13.6" stroke="#f8e470" stroke-width="0.8"/><circle cx="388" cy="6" r="5.3" fill="#d8f0ff" stroke="#2a70c0" stroke-width="1.4"/><rect x="385" y="5.3" width="6" height="1.5" fill="#3a82b8"/><rect x="410" y="0" width="8" height="8" rx="0.8" fill="#38a020"/><rect x="411.5" y="3" width="5" height="3.6" fill="#fff"/><rect x="412.3" y="4" width="3.4" height="0.9" fill="#38a020" opacity="0.5"/><rect x="411.2" y="1" width="1" height="0.9" fill="#fff" opacity="0.8"/><rect x="418" y="0" width="8" height="8" rx="0.8" fill="#2050d8"/><rect x="419.5" y="3" width="5" height="3.6" fill="#fff"/><rect x="420.3" y="4" width="3.4" height="0.9" fill="#2050d8" opacity="0.5"/><rect x="419.2" y="1" width="1" height="0.9" fill="#fff" opacity="0.8"/><rect x="410" y="8" width="8" height="8" rx="0.8" fill="#2050d8"/><rect x="411.5" y="11" width="5" height="3.6" fill="#fff"/><rect x="412.3" y="12" width="3.4" height="0.9" fill="#2050d8" opacity="0.5"/><rect x="411.2" y="9" width="1" height="0.9" fill="#fff" opacity="0.8"/><rect x="418" y="8" width="8" height="8" rx="0.8" fill="#38a020"/><rect x="419.5" y="11" width="5" height="3.6" fill="#fff"/><rect x="420.3" y="12" width="3.4" height="0.9" fill="#38a020" opacity="0.5"/><rect x="419.2" y="9" width="1" height="0.9" fill="#fff" opacity="0.8"/><g stroke="#555" stroke-width="1.2" fill="#555"><line x1="448.5" y1="3" x2="448.5" y2="16"/><line x1="446" y1="13.5" x2="459" y2="13.5"/><polygon points="448.5,1.5 446.8,4.2 450.2,4.2" stroke="none"/><polygon points="460.5,13.5 457.8,11.8 457.8,15.2" stroke="none"/></g><polygon points="453.3,4.3 457.3,7.6 453.3,10.8" fill="#78e078" stroke="#0a9a0a" stroke-width="1"/><g stroke="#555" stroke-width="1.2" fill="#555"><line x1="476.5" y1="3" x2="476.5" y2="16"/><line x1="474" y1="13.5" x2="487" y2="13.5"/><polygon points="476.5,1.5 474.8,4.2 478.2,4.2" stroke="none"/><polygon points="488.5,13.5 485.8,11.8 485.8,15.2" stroke="none"/></g><rect x="482" y="2" width="1.2" height="10" fill="#1a6eb0"/><path d="M488,7.5 H484.5 M486.3,5.5 L484,7.5 L486.3,9.5" stroke="#e05000" stroke-width="1.2" fill="#e05000"/><path d="M508.0,0.5 h7.5 l3.5,3.5 v9.5 h-11 z" fill="#fff" stroke="#8a8a8a" stroke-width="1"/><path d="M515.5,0.5 v3.5 h3.5" fill="#e8e8e8" stroke="#8a8a8a" stroke-width="0.8"/><path d="M511.5,3 q-1.8,3 0,7" stroke="#999" fill="none" stroke-width="1"/><path d="M515.2,6 h4 v3.7 h3.8 v4 h-3.8 v3.8 h-4 v-3.8 h-3.7 v-4 h3.7 z" fill="#22c322" stroke="#0a8a0a" stroke-width="0.9"/><path d="M516.2,7 h2 v3.7 h3.8 v1.2 h-9.5 v-1.2 h3.7 z" fill="#6fe86f" opacity="0.8"/><polygon points="528.5,7.0 534.5,7.0 531.5,10.5" fill="#000"/><circle cx="553" cy="8" r="6.9" fill="#f8fbff" stroke="#1a78d8" stroke-width="2.1"/><circle cx="553" cy="8" r="7.9" fill="none" stroke="#1058b0" stroke-width="0.5"/><path d="M552.6,3.8 V8 H555.6" stroke="#222" stroke-width="1.3" fill="none"/><rect x="552.3" y="-0.5" width="1.6" height="1.3" fill="#1a78d8"/><polygon points="567.5,7.0 573.5,7.0 570.5,10.5" fill="#000"/><rect x="584.5" y="1.5" width="15" height="13" fill="#fff" stroke="#3a78c0" stroke-width="1"/><rect x="584.5" y="1.5" width="15" height="2" fill="#5a98e0"/><rect x="585" y="8.4" width="14" height="0.9" fill="#8ab0e0"/><path d="M586,7 L588,7 L590,5.5 L592,6 L594,6 L596,5 L598,5" stroke="#b02810" stroke-width="1.2" fill="none"/><path d="M587,12.5 L589,12 L591,12.5 L593,11.5 L595,10.5 L597,12.5" stroke="#18902a" stroke-width="1.2" fill="none"/><polygon points="606.5,7.0 612.5,7.0 609.5,10.5" fill="#000"/><path d="M636,1 V12.4 L638.8,9.8 L641,14.8 L642.8,14 L640.6,9.2 L644.2,8.8 z" fill="#505050"/><g stroke="#505050" stroke-width="1.2"><line x1="668.5" y1="1" x2="668.5" y2="7"/><line x1="668.5" y1="10" x2="668.5" y2="16"/><line x1="661" y1="8.5" x2="667" y2="8.5"/><line x1="670" y1="8.5" x2="676" y2="8.5"/></g><g stroke="#505050" stroke-width="1.3" fill="none"><line x1="702.5" y1="2" x2="702.5" y2="15"/><line x1="725" y1="8.5" x2="737" y2="8.5"/><line x1="753" y1="15" x2="765" y2="2.8"/><g stroke-width="1"><line x1="779" y1="9.5" x2="787" y2="2"/><line x1="781" y1="14.5" x2="792.5" y2="4"/><line x1="784" y1="15" x2="793" y2="7"/><line x1="782.5" y1="6" x2="781.5" y2="13.5"/><line x1="786" y1="4" x2="785" y2="11"/><line x1="790.5" y1="0" x2="789" y2="8"/></g></g><text x="790" y="17" font-size="7" fill="#404040" text-anchor="start" font-weight="bold" textLength="4.2" lengthAdjust="spacingAndGlyphs" >E</text><line x1="808" y1="1.5" x2="821" y2="1.5" stroke="#606060" stroke-width="1" stroke-dasharray="1 1"/><line x1="808" y1="4.5" x2="821" y2="4.5" stroke="#606060" stroke-width="1" stroke-dasharray="1 1"/><line x1="808" y1="8.5" x2="821" y2="8.5" stroke="#606060" stroke-width="1" stroke-dasharray="1 1"/><line x1="808" y1="12.5" x2="817" y2="12.5" stroke="#606060" stroke-width="1" stroke-dasharray="1 1"/><text x="818" y="17" font-size="7" fill="#404040" text-anchor="start" font-weight="bold" textLength="4" lengthAdjust="spacingAndGlyphs" >F</text><text x="838.5" y="13" font-size="12.5" fill="#505050" text-anchor="start" font-weight="normal" textLength="8.5" lengthAdjust="spacingAndGlyphs" >A</text><rect x="865.5" y="2.5" width="12" height="12.5" fill="none" stroke="#606060" stroke-width="1" stroke-dasharray="1 1"/><rect x="864.5" y="1.3" width="2" height="1.4" fill="#505050"/><text x="867.3" y="13" font-size="11.5" fill="#505050" text-anchor="start" font-weight="normal" textLength="8" lengthAdjust="spacingAndGlyphs" >T</text><polygon points="896,1.5 899,4.5 896,7 893,4.5" fill="#505050"/><polygon points="903,9.3 906.5,12 903,15 899.5,12" fill="#505050"/><path d="M894.5,9.5 L896.5,11.5 L901.5,6" stroke="#505050" stroke-width="1.2" fill="none"/><polygon points="912.5,7.0 918.5,7.0 915.5,10.5" fill="#000"/><text x="939.5" y="12" font-size="9" fill="#404040" text-anchor="start" font-weight="normal" textLength="12.5" lengthAdjust="spacingAndGlyphs" >M1</text><text x="967.5" y="12" font-size="9" fill="#404040" text-anchor="start" font-weight="normal" textLength="12.5" lengthAdjust="spacingAndGlyphs" >M5</text><text x="993.5" y="12" font-size="9" fill="#404040" text-anchor="start" font-weight="normal" textLength="17.5" lengthAdjust="spacingAndGlyphs" >M15</text><text x="1021.5" y="12" font-size="9" fill="#404040" text-anchor="start" font-weight="normal" textLength="17.5" lengthAdjust="spacingAndGlyphs" >M30</text><text x="1052.5" y="12" font-size="9" fill="#404040" text-anchor="start" font-weight="normal" textLength="12" lengthAdjust="spacingAndGlyphs" >H1</text><text x="1079.5" y="12" font-size="9" fill="#404040" text-anchor="start" font-weight="normal" textLength="12.5" lengthAdjust="spacingAndGlyphs" >H4</text><text x="1108" y="12" font-size="9" fill="#404040" text-anchor="start" font-weight="normal" textLength="12.5" lengthAdjust="spacingAndGlyphs" >D1</text><text x="1136" y="12" font-size="9" fill="#404040" text-anchor="start" font-weight="normal" textLength="14" lengthAdjust="spacingAndGlyphs" >W1</text><text x="1162" y="12" font-size="9" fill="#404040" text-anchor="start" font-weight="normal" textLength="15.5" lengthAdjust="spacingAndGlyphs" >MN</text><circle cx="1655.8" cy="5.4" r="3.7" fill="#fafaff" stroke="#2a5fd0" stroke-width="1.2"/><line x1="1653" y1="8.3" x2="1647.8" y2="13.3" stroke="#2a5fd0" stroke-width="2.2"/><defs><radialGradient id="badge" cx="0.4" cy="0.3" r="0.8"><stop offset="0" stop-color="#f05838"/><stop offset="1" stop-color="#d82408"/></radialGradient></defs><path d="M1672.5,10 a5.6,4.6 0 1 1 5,4.4 l-2.4,2.6 l0.2,-3.2 a5.6,4.6 0 0 1 -2.8,-3.8 z" fill="#dcdce4" stroke="#b4b4b8" stroke-width="0.8"/><circle cx="1686.5" cy="5.4" r="8.2" fill="url(#badge)"/><text x="1682.3" y="10.2" font-size="13.5" fill="#fff" text-anchor="start" font-weight="normal" textLength="6.5" lengthAdjust="spacingAndGlyphs" >1</text></g>
</svg>
</body></html>
